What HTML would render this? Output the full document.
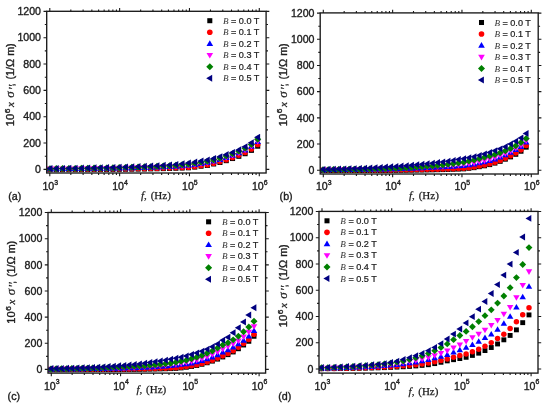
<!DOCTYPE html>
<html><head><meta charset="utf-8"><style>
html,body{margin:0;padding:0;background:#fff;}
svg{display:block;will-change:transform;}
text{stroke:#222;stroke-width:0.35px;}
.sf{stroke-width:0.25px;}
.lg{stroke-width:0.22px;}

</style></head><body>
<svg width="550" height="406" viewBox="0 0 550 406" font-family='"Liberation Sans", sans-serif' fill="#1a1a1a" stroke="#1a1a1a" stroke-width="0">
<defs><clipPath id="clipa"><rect x="46.7" y="5.300000000000001" width="225.40000000000003" height="167.7"/></clipPath><clipPath id="clipb"><rect x="320.2" y="6.9" width="224.00000000000006" height="167.1"/></clipPath><clipPath id="clipc"><rect x="48.0" y="206.5" width="223.60000000000002" height="166.60000000000002"/></clipPath><clipPath id="clipd"><rect x="319.0" y="205.4" width="225.0" height="167.70000000000002"/></clipPath></defs>
<rect width="550" height="406" fill="#fff"/>
<g clip-path="url(#clipa)">
<rect x="47.46" y="167.14" width="5.08" height="5.08" fill="#000000"/>
<rect x="53.76" y="167.12" width="5.08" height="5.08" fill="#000000"/>
<rect x="60.05" y="167.09" width="5.08" height="5.08" fill="#000000"/>
<rect x="66.34" y="167.07" width="5.08" height="5.08" fill="#000000"/>
<rect x="72.64" y="167.04" width="5.08" height="5.08" fill="#000000"/>
<rect x="78.93" y="167.01" width="5.08" height="5.08" fill="#000000"/>
<rect x="85.23" y="166.97" width="5.08" height="5.08" fill="#000000"/>
<rect x="91.52" y="166.94" width="5.08" height="5.08" fill="#000000"/>
<rect x="97.81" y="166.90" width="5.08" height="5.08" fill="#000000"/>
<rect x="104.11" y="166.86" width="5.08" height="5.08" fill="#000000"/>
<rect x="110.40" y="166.81" width="5.08" height="5.08" fill="#000000"/>
<rect x="116.70" y="166.76" width="5.08" height="5.08" fill="#000000"/>
<rect x="122.99" y="166.69" width="5.08" height="5.08" fill="#000000"/>
<rect x="129.28" y="166.61" width="5.08" height="5.08" fill="#000000"/>
<rect x="135.58" y="166.52" width="5.08" height="5.08" fill="#000000"/>
<rect x="141.87" y="166.43" width="5.08" height="5.08" fill="#000000"/>
<rect x="148.17" y="166.32" width="5.08" height="5.08" fill="#000000"/>
<rect x="154.46" y="166.19" width="5.08" height="5.08" fill="#000000"/>
<rect x="160.75" y="166.04" width="5.08" height="5.08" fill="#000000"/>
<rect x="167.05" y="165.88" width="5.08" height="5.08" fill="#000000"/>
<rect x="173.34" y="165.69" width="5.08" height="5.08" fill="#000000"/>
<rect x="179.63" y="165.48" width="5.08" height="5.08" fill="#000000"/>
<rect x="185.93" y="165.23" width="5.08" height="5.08" fill="#000000"/>
<rect x="192.22" y="164.53" width="5.08" height="5.08" fill="#000000"/>
<rect x="198.52" y="163.66" width="5.08" height="5.08" fill="#000000"/>
<rect x="204.81" y="162.87" width="5.08" height="5.08" fill="#000000"/>
<rect x="211.10" y="161.41" width="5.08" height="5.08" fill="#000000"/>
<rect x="217.40" y="159.91" width="5.08" height="5.08" fill="#000000"/>
<rect x="223.69" y="158.10" width="5.08" height="5.08" fill="#000000"/>
<rect x="229.99" y="155.96" width="5.08" height="5.08" fill="#000000"/>
<rect x="236.28" y="153.74" width="5.08" height="5.08" fill="#000000"/>
<rect x="242.57" y="151.14" width="5.08" height="5.08" fill="#000000"/>
<rect x="248.87" y="147.79" width="5.08" height="5.08" fill="#000000"/>
<rect x="255.16" y="143.62" width="5.08" height="5.08" fill="#000000"/>
<circle cx="50.00" cy="169.14" r="2.83" fill="#ff0000"/>
<circle cx="56.29" cy="169.11" r="2.83" fill="#ff0000"/>
<circle cx="62.59" cy="169.09" r="2.83" fill="#ff0000"/>
<circle cx="68.88" cy="169.06" r="2.83" fill="#ff0000"/>
<circle cx="75.18" cy="169.03" r="2.83" fill="#ff0000"/>
<circle cx="81.47" cy="169.00" r="2.83" fill="#ff0000"/>
<circle cx="87.76" cy="168.97" r="2.83" fill="#ff0000"/>
<circle cx="94.06" cy="168.93" r="2.83" fill="#ff0000"/>
<circle cx="100.35" cy="168.89" r="2.83" fill="#ff0000"/>
<circle cx="106.65" cy="168.84" r="2.83" fill="#ff0000"/>
<circle cx="112.94" cy="168.79" r="2.83" fill="#ff0000"/>
<circle cx="119.23" cy="168.74" r="2.83" fill="#ff0000"/>
<circle cx="125.53" cy="168.67" r="2.83" fill="#ff0000"/>
<circle cx="131.82" cy="168.58" r="2.83" fill="#ff0000"/>
<circle cx="138.12" cy="168.49" r="2.83" fill="#ff0000"/>
<circle cx="144.41" cy="168.39" r="2.83" fill="#ff0000"/>
<circle cx="150.70" cy="168.28" r="2.83" fill="#ff0000"/>
<circle cx="157.00" cy="168.15" r="2.83" fill="#ff0000"/>
<circle cx="163.29" cy="167.99" r="2.83" fill="#ff0000"/>
<circle cx="169.58" cy="167.82" r="2.83" fill="#ff0000"/>
<circle cx="175.88" cy="167.62" r="2.83" fill="#ff0000"/>
<circle cx="182.17" cy="167.40" r="2.83" fill="#ff0000"/>
<circle cx="188.47" cy="167.13" r="2.83" fill="#ff0000"/>
<circle cx="194.76" cy="166.41" r="2.83" fill="#ff0000"/>
<circle cx="201.05" cy="165.50" r="2.83" fill="#ff0000"/>
<circle cx="207.35" cy="164.67" r="2.83" fill="#ff0000"/>
<circle cx="213.64" cy="163.13" r="2.83" fill="#ff0000"/>
<circle cx="219.94" cy="161.57" r="2.83" fill="#ff0000"/>
<circle cx="226.23" cy="159.68" r="2.83" fill="#ff0000"/>
<circle cx="232.52" cy="157.43" r="2.83" fill="#ff0000"/>
<circle cx="238.82" cy="155.10" r="2.83" fill="#ff0000"/>
<circle cx="245.11" cy="152.39" r="2.83" fill="#ff0000"/>
<circle cx="251.41" cy="148.88" r="2.83" fill="#ff0000"/>
<circle cx="257.70" cy="144.51" r="2.83" fill="#ff0000"/>
<path d="M50.00,165.49L53.35,171.22L46.65,171.22Z" fill="#0000ff"/>
<path d="M56.29,165.45L59.64,171.17L52.95,171.17Z" fill="#0000ff"/>
<path d="M62.59,165.40L65.94,171.12L59.24,171.12Z" fill="#0000ff"/>
<path d="M68.88,165.34L72.23,171.07L65.53,171.07Z" fill="#0000ff"/>
<path d="M75.18,165.28L78.52,171.01L71.83,171.01Z" fill="#0000ff"/>
<path d="M81.47,165.22L84.82,170.94L78.12,170.94Z" fill="#0000ff"/>
<path d="M87.76,165.15L91.11,170.87L84.42,170.87Z" fill="#0000ff"/>
<path d="M94.06,165.08L97.41,170.80L90.71,170.80Z" fill="#0000ff"/>
<path d="M100.35,165.00L103.70,170.73L97.00,170.73Z" fill="#0000ff"/>
<path d="M106.65,164.92L109.99,170.64L103.30,170.64Z" fill="#0000ff"/>
<path d="M112.94,164.82L116.29,170.55L109.59,170.55Z" fill="#0000ff"/>
<path d="M119.23,164.72L122.58,170.45L115.89,170.45Z" fill="#0000ff"/>
<path d="M125.53,164.60L128.88,170.32L122.18,170.32Z" fill="#0000ff"/>
<path d="M131.82,164.47L135.17,170.19L128.47,170.19Z" fill="#0000ff"/>
<path d="M138.12,164.32L141.46,170.04L134.77,170.04Z" fill="#0000ff"/>
<path d="M144.41,164.15L147.76,169.88L141.06,169.88Z" fill="#0000ff"/>
<path d="M150.70,163.97L154.05,169.70L147.36,169.70Z" fill="#0000ff"/>
<path d="M157.00,163.77L160.34,169.49L153.65,169.49Z" fill="#0000ff"/>
<path d="M163.29,163.52L166.64,169.24L159.94,169.24Z" fill="#0000ff"/>
<path d="M169.58,163.24L172.93,168.96L166.24,168.96Z" fill="#0000ff"/>
<path d="M175.88,162.92L179.23,168.65L172.53,168.65Z" fill="#0000ff"/>
<path d="M182.17,162.52L185.52,168.25L178.82,168.25Z" fill="#0000ff"/>
<path d="M188.47,162.06L191.81,167.79L185.12,167.79Z" fill="#0000ff"/>
<path d="M194.76,161.27L198.11,166.99L191.41,166.99Z" fill="#0000ff"/>
<path d="M201.05,160.31L204.40,166.03L197.71,166.03Z" fill="#0000ff"/>
<path d="M207.35,159.35L210.70,165.08L204.00,165.08Z" fill="#0000ff"/>
<path d="M213.64,157.89L216.99,163.62L210.29,163.62Z" fill="#0000ff"/>
<path d="M219.94,156.22L223.28,161.94L216.59,161.94Z" fill="#0000ff"/>
<path d="M226.23,154.24L229.58,159.97L222.88,159.97Z" fill="#0000ff"/>
<path d="M232.52,152.01L235.87,157.73L229.18,157.73Z" fill="#0000ff"/>
<path d="M238.82,149.58L242.17,155.31L235.47,155.31Z" fill="#0000ff"/>
<path d="M245.11,146.71L248.46,152.43L241.76,152.43Z" fill="#0000ff"/>
<path d="M251.41,142.99L254.75,148.71L248.06,148.71Z" fill="#0000ff"/>
<path d="M257.70,138.18L261.05,143.90L254.35,143.90Z" fill="#0000ff"/>
<path d="M50.00,172.33L53.35,166.61L46.65,166.61Z" fill="#ff00ff"/>
<path d="M56.29,172.29L59.64,166.56L52.95,166.56Z" fill="#ff00ff"/>
<path d="M62.59,172.23L65.94,166.51L59.24,166.51Z" fill="#ff00ff"/>
<path d="M68.88,172.18L72.23,166.45L65.53,166.45Z" fill="#ff00ff"/>
<path d="M75.18,172.11L78.52,166.39L71.83,166.39Z" fill="#ff00ff"/>
<path d="M81.47,172.04L84.82,166.32L78.12,166.32Z" fill="#ff00ff"/>
<path d="M87.76,171.97L91.11,166.25L84.42,166.25Z" fill="#ff00ff"/>
<path d="M94.06,171.90L97.41,166.17L90.71,166.17Z" fill="#ff00ff"/>
<path d="M100.35,171.81L103.70,166.09L97.00,166.09Z" fill="#ff00ff"/>
<path d="M106.65,171.72L109.99,166.00L103.30,166.00Z" fill="#ff00ff"/>
<path d="M112.94,171.63L116.29,165.90L109.59,165.90Z" fill="#ff00ff"/>
<path d="M119.23,171.52L122.58,165.80L115.89,165.80Z" fill="#ff00ff"/>
<path d="M125.53,171.39L128.88,165.67L122.18,165.67Z" fill="#ff00ff"/>
<path d="M131.82,171.25L135.17,165.53L128.47,165.53Z" fill="#ff00ff"/>
<path d="M138.12,171.09L141.46,165.37L134.77,165.37Z" fill="#ff00ff"/>
<path d="M144.41,170.92L147.76,165.20L141.06,165.20Z" fill="#ff00ff"/>
<path d="M150.70,170.73L154.05,165.01L147.36,165.01Z" fill="#ff00ff"/>
<path d="M157.00,170.52L160.34,164.80L153.65,164.80Z" fill="#ff00ff"/>
<path d="M163.29,170.26L166.64,164.53L159.94,164.53Z" fill="#ff00ff"/>
<path d="M169.58,169.96L172.93,164.24L166.24,164.24Z" fill="#ff00ff"/>
<path d="M175.88,169.63L179.23,163.91L172.53,163.91Z" fill="#ff00ff"/>
<path d="M182.17,169.21L185.52,163.49L178.82,163.49Z" fill="#ff00ff"/>
<path d="M188.47,168.73L191.81,163.00L185.12,163.00Z" fill="#ff00ff"/>
<path d="M194.76,167.92L198.11,162.20L191.41,162.20Z" fill="#ff00ff"/>
<path d="M201.05,166.96L204.40,161.23L197.71,161.23Z" fill="#ff00ff"/>
<path d="M207.35,165.99L210.70,160.26L204.00,160.26Z" fill="#ff00ff"/>
<path d="M213.64,164.53L216.99,158.81L210.29,158.81Z" fill="#ff00ff"/>
<path d="M219.94,162.85L223.28,157.12L216.59,157.12Z" fill="#ff00ff"/>
<path d="M226.23,160.86L229.58,155.14L222.88,155.14Z" fill="#ff00ff"/>
<path d="M232.52,158.63L235.87,152.91L229.18,152.91Z" fill="#ff00ff"/>
<path d="M238.82,156.19L242.17,150.47L235.47,150.47Z" fill="#ff00ff"/>
<path d="M245.11,153.29L248.46,147.57L241.76,147.57Z" fill="#ff00ff"/>
<path d="M251.41,149.55L254.75,143.83L248.06,143.83Z" fill="#ff00ff"/>
<path d="M257.70,144.68L261.05,138.96L254.35,138.96Z" fill="#ff00ff"/>
<path d="M50.00,165.19L53.56,168.75L50.00,172.32L46.44,168.75Z" fill="#008000"/>
<path d="M56.29,165.12L59.86,168.69L56.29,172.25L52.73,168.69Z" fill="#008000"/>
<path d="M62.59,165.06L66.15,168.62L62.59,172.18L59.02,168.62Z" fill="#008000"/>
<path d="M68.88,164.98L72.45,168.54L68.88,172.11L65.32,168.54Z" fill="#008000"/>
<path d="M75.18,164.89L78.74,168.46L75.18,172.02L71.61,168.46Z" fill="#008000"/>
<path d="M81.47,164.80L85.03,168.37L81.47,171.93L77.91,168.37Z" fill="#008000"/>
<path d="M87.76,164.71L91.33,168.27L87.76,171.84L84.20,168.27Z" fill="#008000"/>
<path d="M94.06,164.61L97.62,168.17L94.06,171.74L90.49,168.17Z" fill="#008000"/>
<path d="M100.35,164.50L103.92,168.06L100.35,171.63L96.79,168.06Z" fill="#008000"/>
<path d="M106.65,164.38L110.21,167.95L106.65,171.51L103.08,167.95Z" fill="#008000"/>
<path d="M112.94,164.25L116.50,167.82L112.94,171.38L109.38,167.82Z" fill="#008000"/>
<path d="M119.23,164.11L122.80,167.68L119.23,171.24L115.67,167.68Z" fill="#008000"/>
<path d="M125.53,163.95L129.09,167.52L125.53,171.08L121.96,167.52Z" fill="#008000"/>
<path d="M131.82,163.77L135.39,167.34L131.82,170.90L128.26,167.34Z" fill="#008000"/>
<path d="M138.12,163.58L141.68,167.14L138.12,170.70L134.55,167.14Z" fill="#008000"/>
<path d="M144.41,163.36L147.97,166.93L144.41,170.49L140.85,166.93Z" fill="#008000"/>
<path d="M150.70,163.13L154.27,166.69L150.70,170.26L147.14,166.69Z" fill="#008000"/>
<path d="M157.00,162.86L160.56,166.43L157.00,169.99L153.43,166.43Z" fill="#008000"/>
<path d="M163.29,162.53L166.85,166.10L163.29,169.66L159.73,166.10Z" fill="#008000"/>
<path d="M169.58,162.17L173.15,165.73L169.58,169.29L166.02,165.73Z" fill="#008000"/>
<path d="M175.88,161.75L179.44,165.31L175.88,168.88L172.31,165.31Z" fill="#008000"/>
<path d="M182.17,161.21L185.74,164.77L182.17,168.33L178.61,164.77Z" fill="#008000"/>
<path d="M188.47,160.58L192.03,164.15L188.47,167.71L184.90,164.15Z" fill="#008000"/>
<path d="M194.76,159.73L198.32,163.29L194.76,166.85L191.20,163.29Z" fill="#008000"/>
<path d="M201.05,158.73L204.62,162.29L201.05,165.86L197.49,162.29Z" fill="#008000"/>
<path d="M207.35,157.67L210.91,161.23L207.35,164.80L203.78,161.23Z" fill="#008000"/>
<path d="M213.64,156.27L217.21,159.83L213.64,163.40L210.08,159.83Z" fill="#008000"/>
<path d="M219.94,154.51L223.50,158.07L219.94,161.64L216.37,158.07Z" fill="#008000"/>
<path d="M226.23,152.46L229.79,156.03L226.23,159.59L222.67,156.03Z" fill="#008000"/>
<path d="M232.52,150.24L236.09,153.80L232.52,157.37L228.96,153.80Z" fill="#008000"/>
<path d="M238.82,147.73L242.38,151.30L238.82,154.86L235.25,151.30Z" fill="#008000"/>
<path d="M245.11,144.72L248.68,148.29L245.11,151.85L241.55,148.29Z" fill="#008000"/>
<path d="M251.41,140.83L254.97,144.40L251.41,147.96L247.84,144.40Z" fill="#008000"/>
<path d="M257.70,135.66L261.26,139.22L257.70,142.78L254.14,139.22Z" fill="#008000"/>
<path d="M46.37,168.61L52.42,165.05L52.42,172.17Z" fill="#000080"/>
<path d="M52.67,168.53L58.71,164.97L58.71,172.10Z" fill="#000080"/>
<path d="M58.96,168.45L65.01,164.88L65.01,172.01Z" fill="#000080"/>
<path d="M65.25,168.35L71.30,164.79L71.30,171.91Z" fill="#000080"/>
<path d="M71.55,168.25L77.59,164.68L77.59,171.81Z" fill="#000080"/>
<path d="M77.84,168.13L83.89,164.57L83.89,171.70Z" fill="#000080"/>
<path d="M84.13,168.01L90.18,164.45L90.18,171.58Z" fill="#000080"/>
<path d="M90.43,167.89L96.48,164.33L96.48,171.46Z" fill="#000080"/>
<path d="M96.72,167.76L102.77,164.20L102.77,171.32Z" fill="#000080"/>
<path d="M103.02,167.61L109.06,164.05L109.06,171.18Z" fill="#000080"/>
<path d="M109.31,167.46L115.36,163.89L115.36,171.02Z" fill="#000080"/>
<path d="M115.60,167.29L121.65,163.72L121.65,170.85Z" fill="#000080"/>
<path d="M121.90,167.09L127.95,163.53L127.95,170.65Z" fill="#000080"/>
<path d="M128.19,166.88L134.24,163.31L134.24,170.44Z" fill="#000080"/>
<path d="M134.49,166.64L140.53,163.08L140.53,170.20Z" fill="#000080"/>
<path d="M140.78,166.38L146.83,162.82L146.83,169.95Z" fill="#000080"/>
<path d="M147.07,166.10L153.12,162.54L153.12,169.67Z" fill="#000080"/>
<path d="M153.37,165.79L159.42,162.23L159.42,169.36Z" fill="#000080"/>
<path d="M159.66,165.40L165.71,161.83L165.71,168.96Z" fill="#000080"/>
<path d="M165.96,164.96L172.00,161.39L172.00,168.52Z" fill="#000080"/>
<path d="M172.25,164.46L178.30,160.90L178.30,168.02Z" fill="#000080"/>
<path d="M178.54,163.80L184.59,160.23L184.59,167.36Z" fill="#000080"/>
<path d="M184.84,163.04L190.89,159.48L190.89,166.61Z" fill="#000080"/>
<path d="M191.13,162.14L197.18,158.57L197.18,165.70Z" fill="#000080"/>
<path d="M197.43,161.11L203.47,157.54L203.47,164.67Z" fill="#000080"/>
<path d="M203.72,159.96L209.77,156.40L209.77,163.53Z" fill="#000080"/>
<path d="M210.01,158.61L216.06,155.05L216.06,162.18Z" fill="#000080"/>
<path d="M216.31,156.78L222.36,153.22L222.36,160.34Z" fill="#000080"/>
<path d="M222.60,154.68L228.65,151.11L228.65,158.24Z" fill="#000080"/>
<path d="M228.90,152.46L234.94,148.90L234.94,156.03Z" fill="#000080"/>
<path d="M235.19,149.89L241.24,146.32L241.24,153.45Z" fill="#000080"/>
<path d="M241.48,146.77L247.53,143.21L247.53,150.34Z" fill="#000080"/>
<path d="M247.78,142.74L253.83,139.18L253.83,146.30Z" fill="#000080"/>
<path d="M254.07,137.27L260.12,133.70L260.12,140.83Z" fill="#000080"/>
</g>
<rect x="46.70" y="11.30" width="219.40" height="161.70" fill="none" stroke="#1a1a1a" stroke-width="1.35"/>
<text x="41.00" y="173.10" text-anchor="end" font-size="10.6">0</text>
<text x="41.00" y="146.76" text-anchor="end" font-size="10.6">200</text>
<text x="41.00" y="120.42" text-anchor="end" font-size="10.6">400</text>
<text x="41.00" y="94.08" text-anchor="end" font-size="10.6">600</text>
<text x="41.00" y="67.74" text-anchor="end" font-size="10.6">800</text>
<text x="41.00" y="41.40" text-anchor="end" font-size="10.6">1000</text>
<text x="41.00" y="15.06" text-anchor="end" font-size="10.6">1200</text>
<path d="M46.70,169.40h-3.2M266.10,169.40h3.2M46.70,156.23h-1.9M266.10,156.23h1.9M46.70,143.06h-3.2M266.10,143.06h3.2M46.70,129.89h-1.9M266.10,129.89h1.9M46.70,116.72h-3.2M266.10,116.72h3.2M46.70,103.55h-1.9M266.10,103.55h1.9M46.70,90.38h-3.2M266.10,90.38h3.2M46.70,77.21h-1.9M266.10,77.21h1.9M46.70,64.04h-3.2M266.10,64.04h3.2M46.70,50.87h-1.9M266.10,50.87h1.9M46.70,37.70h-3.2M266.10,37.70h3.2M46.70,24.53h-1.9M266.10,24.53h1.9M46.70,11.36h-3.2M266.10,11.36h3.2M49.80,173.00v3.2M49.80,11.30v-3.2M70.82,173.00v1.9M70.82,11.30v-1.9M83.12,173.00v1.9M83.12,11.30v-1.9M91.84,173.00v1.9M91.84,11.30v-1.9M98.61,173.00v1.9M98.61,11.30v-1.9M104.14,173.00v1.9M104.14,11.30v-1.9M108.81,173.00v1.9M108.81,11.30v-1.9M112.86,173.00v1.9M112.86,11.30v-1.9M116.43,173.00v1.9M116.43,11.30v-1.9M119.63,173.00v3.2M119.63,11.30v-3.2M140.65,173.00v1.9M140.65,11.30v-1.9M152.95,173.00v1.9M152.95,11.30v-1.9M161.67,173.00v1.9M161.67,11.30v-1.9M168.44,173.00v1.9M168.44,11.30v-1.9M173.97,173.00v1.9M173.97,11.30v-1.9M178.64,173.00v1.9M178.64,11.30v-1.9M182.69,173.00v1.9M182.69,11.30v-1.9M186.26,173.00v1.9M186.26,11.30v-1.9M189.46,173.00v3.2M189.46,11.30v-3.2M210.48,173.00v1.9M210.48,11.30v-1.9M222.78,173.00v1.9M222.78,11.30v-1.9M231.50,173.00v1.9M231.50,11.30v-1.9M238.27,173.00v1.9M238.27,11.30v-1.9M243.80,173.00v1.9M243.80,11.30v-1.9M248.47,173.00v1.9M248.47,11.30v-1.9M252.52,173.00v1.9M252.52,11.30v-1.9M256.09,173.00v1.9M256.09,11.30v-1.9M259.29,173.00v3.2M259.29,11.30v-3.2" stroke="#1a1a1a" stroke-width="1.1" fill="none"/>
<text x="42.40" y="190.10" font-size="10.6">10<tspan font-size="6.9" dy="-5.4">3</tspan></text>
<text x="112.23" y="190.10" font-size="10.6">10<tspan font-size="6.9" dy="-5.4">4</tspan></text>
<text x="182.06" y="190.10" font-size="10.6">10<tspan font-size="6.9" dy="-5.4">5</tspan></text>
<text x="251.89" y="190.10" font-size="10.6">10<tspan font-size="6.9" dy="-5.4">6</tspan></text>
<text x="8.2" y="200.1" font-size="10.7">(a)</text>
<rect x="207.29" y="18.19" width="5.03" height="5.03" fill="#000000"/>
<text x="222.9" y="23.70" font-size="9.1" class="lg"><tspan font-family='"Liberation Serif", serif' font-style="italic" fill="#333" stroke="none">B</tspan> = 0.0 T</text>
<circle cx="209.80" cy="32.20" r="2.81" fill="#ff0000"/>
<text x="222.9" y="35.20" font-size="9.1" class="lg"><tspan font-family='"Liberation Serif", serif' font-style="italic" fill="#333" stroke="none">B</tspan> = 0.1 T</text>
<path d="M209.80,40.30L213.12,45.97L206.48,45.97Z" fill="#0000ff"/>
<text x="222.9" y="46.70" font-size="9.1" class="lg"><tspan font-family='"Liberation Serif", serif' font-style="italic" fill="#333" stroke="none">B</tspan> = 0.2 T</text>
<path d="M209.80,58.60L213.12,52.93L206.48,52.93Z" fill="#ff00ff"/>
<text x="222.9" y="58.20" font-size="9.1" class="lg"><tspan font-family='"Liberation Serif", serif' font-style="italic" fill="#333" stroke="none">B</tspan> = 0.3 T</text>
<path d="M209.80,63.17L213.33,66.70L209.80,70.23L206.27,66.70Z" fill="#008000"/>
<text x="222.9" y="69.70" font-size="9.1" class="lg"><tspan font-family='"Liberation Serif", serif' font-style="italic" fill="#333" stroke="none">B</tspan> = 0.4 T</text>
<path d="M206.20,78.20L212.20,74.67L212.20,81.73Z" fill="#000080"/>
<text x="222.9" y="81.20" font-size="9.1" class="lg"><tspan font-family='"Liberation Serif", serif' font-style="italic" fill="#333" stroke="none">B</tspan> = 0.5 T</text>
<text x="141.0" y="198.7" font-family='"Liberation Serif", serif' font-size="11" class="sf"><tspan font-style="italic">f</tspan>,<tspan dx="1.1"> (Hz)</tspan></text>
<g transform="translate(14.3,125.0) rotate(-90)" font-size="10">
<text transform="translate(-1.2,0) scale(1.12,1)" x="0" y="0">10<tspan font-size="7.6" dx="0.4" dy="-4.2">6</tspan></text>
<text x="17.9" y="0" font-family='"Liberation Serif", serif' font-style="italic" font-size="11" class="sf">x</text>
<text x="27.3" y="0" font-family='"Liberation Serif", serif' font-style="italic" font-size="13" class="sf">σ</text>
<text x="34.8" y="2.2" font-family='"Liberation Serif", serif' font-style="italic" font-size="13" class="sf">''</text>
<text x="38.8" y="0">,</text>
<text transform="translate(45.5,0) scale(1.08,1)" x="0" y="0">(1/Ω m)</text>
</g>
<g clip-path="url(#clipb)">
<rect x="320.51" y="168.11" width="4.98" height="4.98" fill="#000000"/>
<rect x="325.72" y="168.10" width="4.98" height="4.98" fill="#000000"/>
<rect x="330.93" y="168.09" width="4.98" height="4.98" fill="#000000"/>
<rect x="336.14" y="168.08" width="4.98" height="4.98" fill="#000000"/>
<rect x="341.35" y="168.07" width="4.98" height="4.98" fill="#000000"/>
<rect x="346.56" y="168.06" width="4.98" height="4.98" fill="#000000"/>
<rect x="351.77" y="168.05" width="4.98" height="4.98" fill="#000000"/>
<rect x="356.98" y="168.04" width="4.98" height="4.98" fill="#000000"/>
<rect x="362.19" y="168.03" width="4.98" height="4.98" fill="#000000"/>
<rect x="367.40" y="168.02" width="4.98" height="4.98" fill="#000000"/>
<rect x="372.61" y="168.00" width="4.98" height="4.98" fill="#000000"/>
<rect x="377.82" y="167.99" width="4.98" height="4.98" fill="#000000"/>
<rect x="383.03" y="167.96" width="4.98" height="4.98" fill="#000000"/>
<rect x="388.24" y="167.93" width="4.98" height="4.98" fill="#000000"/>
<rect x="393.45" y="167.88" width="4.98" height="4.98" fill="#000000"/>
<rect x="398.66" y="167.83" width="4.98" height="4.98" fill="#000000"/>
<rect x="403.87" y="167.77" width="4.98" height="4.98" fill="#000000"/>
<rect x="409.08" y="167.70" width="4.98" height="4.98" fill="#000000"/>
<rect x="414.29" y="167.63" width="4.98" height="4.98" fill="#000000"/>
<rect x="419.50" y="167.54" width="4.98" height="4.98" fill="#000000"/>
<rect x="424.71" y="167.44" width="4.98" height="4.98" fill="#000000"/>
<rect x="429.92" y="167.34" width="4.98" height="4.98" fill="#000000"/>
<rect x="435.13" y="167.22" width="4.98" height="4.98" fill="#000000"/>
<rect x="440.34" y="167.09" width="4.98" height="4.98" fill="#000000"/>
<rect x="445.56" y="166.94" width="4.98" height="4.98" fill="#000000"/>
<rect x="450.77" y="166.78" width="4.98" height="4.98" fill="#000000"/>
<rect x="455.98" y="166.59" width="4.98" height="4.98" fill="#000000"/>
<rect x="461.19" y="166.38" width="4.98" height="4.98" fill="#000000"/>
<rect x="466.40" y="165.81" width="4.98" height="4.98" fill="#000000"/>
<rect x="471.61" y="165.17" width="4.98" height="4.98" fill="#000000"/>
<rect x="476.82" y="164.19" width="4.98" height="4.98" fill="#000000"/>
<rect x="482.03" y="163.32" width="4.98" height="4.98" fill="#000000"/>
<rect x="487.24" y="162.12" width="4.98" height="4.98" fill="#000000"/>
<rect x="492.45" y="160.62" width="4.98" height="4.98" fill="#000000"/>
<rect x="497.66" y="158.84" width="4.98" height="4.98" fill="#000000"/>
<rect x="502.87" y="156.69" width="4.98" height="4.98" fill="#000000"/>
<rect x="508.08" y="154.39" width="4.98" height="4.98" fill="#000000"/>
<rect x="513.29" y="151.82" width="4.98" height="4.98" fill="#000000"/>
<rect x="518.50" y="148.76" width="4.98" height="4.98" fill="#000000"/>
<rect x="523.71" y="144.68" width="4.98" height="4.98" fill="#000000"/>
<circle cx="323.00" cy="170.07" r="2.78" fill="#ff0000"/>
<circle cx="328.21" cy="170.06" r="2.78" fill="#ff0000"/>
<circle cx="333.42" cy="170.05" r="2.78" fill="#ff0000"/>
<circle cx="338.63" cy="170.04" r="2.78" fill="#ff0000"/>
<circle cx="343.84" cy="170.03" r="2.78" fill="#ff0000"/>
<circle cx="349.05" cy="170.02" r="2.78" fill="#ff0000"/>
<circle cx="354.26" cy="170.01" r="2.78" fill="#ff0000"/>
<circle cx="359.47" cy="170.00" r="2.78" fill="#ff0000"/>
<circle cx="364.68" cy="169.99" r="2.78" fill="#ff0000"/>
<circle cx="369.89" cy="169.97" r="2.78" fill="#ff0000"/>
<circle cx="375.10" cy="169.96" r="2.78" fill="#ff0000"/>
<circle cx="380.31" cy="169.95" r="2.78" fill="#ff0000"/>
<circle cx="385.52" cy="169.92" r="2.78" fill="#ff0000"/>
<circle cx="390.73" cy="169.88" r="2.78" fill="#ff0000"/>
<circle cx="395.94" cy="169.83" r="2.78" fill="#ff0000"/>
<circle cx="401.15" cy="169.78" r="2.78" fill="#ff0000"/>
<circle cx="406.36" cy="169.72" r="2.78" fill="#ff0000"/>
<circle cx="411.57" cy="169.65" r="2.78" fill="#ff0000"/>
<circle cx="416.78" cy="169.57" r="2.78" fill="#ff0000"/>
<circle cx="421.99" cy="169.47" r="2.78" fill="#ff0000"/>
<circle cx="427.21" cy="169.37" r="2.78" fill="#ff0000"/>
<circle cx="432.42" cy="169.27" r="2.78" fill="#ff0000"/>
<circle cx="437.63" cy="169.14" r="2.78" fill="#ff0000"/>
<circle cx="442.84" cy="169.01" r="2.78" fill="#ff0000"/>
<circle cx="448.05" cy="168.85" r="2.78" fill="#ff0000"/>
<circle cx="453.26" cy="168.68" r="2.78" fill="#ff0000"/>
<circle cx="458.47" cy="168.48" r="2.78" fill="#ff0000"/>
<circle cx="463.68" cy="168.26" r="2.78" fill="#ff0000"/>
<circle cx="468.89" cy="167.67" r="2.78" fill="#ff0000"/>
<circle cx="474.10" cy="167.00" r="2.78" fill="#ff0000"/>
<circle cx="479.31" cy="165.97" r="2.78" fill="#ff0000"/>
<circle cx="484.52" cy="165.07" r="2.78" fill="#ff0000"/>
<circle cx="489.73" cy="163.81" r="2.78" fill="#ff0000"/>
<circle cx="494.94" cy="162.24" r="2.78" fill="#ff0000"/>
<circle cx="500.15" cy="160.39" r="2.78" fill="#ff0000"/>
<circle cx="505.36" cy="158.14" r="2.78" fill="#ff0000"/>
<circle cx="510.57" cy="155.74" r="2.78" fill="#ff0000"/>
<circle cx="515.78" cy="153.05" r="2.78" fill="#ff0000"/>
<circle cx="520.99" cy="149.85" r="2.78" fill="#ff0000"/>
<circle cx="526.20" cy="145.59" r="2.78" fill="#ff0000"/>
<path d="M323.00,166.52L326.29,172.14L319.71,172.14Z" fill="#0000ff"/>
<path d="M328.21,166.49L331.50,172.11L324.92,172.11Z" fill="#0000ff"/>
<path d="M333.42,166.45L336.71,172.07L330.13,172.07Z" fill="#0000ff"/>
<path d="M338.63,166.41L341.92,172.03L335.34,172.03Z" fill="#0000ff"/>
<path d="M343.84,166.37L347.13,171.99L340.56,171.99Z" fill="#0000ff"/>
<path d="M349.05,166.32L352.34,171.94L345.77,171.94Z" fill="#0000ff"/>
<path d="M354.26,166.27L357.55,171.88L350.98,171.88Z" fill="#0000ff"/>
<path d="M359.47,166.21L362.76,171.82L356.19,171.82Z" fill="#0000ff"/>
<path d="M364.68,166.14L367.97,171.76L361.40,171.76Z" fill="#0000ff"/>
<path d="M369.89,166.06L373.18,171.68L366.61,171.68Z" fill="#0000ff"/>
<path d="M375.10,165.98L378.39,171.60L371.82,171.60Z" fill="#0000ff"/>
<path d="M380.31,165.88L383.60,171.50L377.03,171.50Z" fill="#0000ff"/>
<path d="M385.52,165.78L388.81,171.40L382.24,171.40Z" fill="#0000ff"/>
<path d="M390.73,165.67L394.02,171.29L387.45,171.29Z" fill="#0000ff"/>
<path d="M395.94,165.55L399.23,171.16L392.66,171.16Z" fill="#0000ff"/>
<path d="M401.15,165.41L404.44,171.03L397.87,171.03Z" fill="#0000ff"/>
<path d="M406.36,165.26L409.65,170.87L403.08,170.87Z" fill="#0000ff"/>
<path d="M411.57,165.09L414.86,170.70L408.29,170.70Z" fill="#0000ff"/>
<path d="M416.78,164.90L420.07,170.52L413.50,170.52Z" fill="#0000ff"/>
<path d="M421.99,164.69L425.28,170.31L418.71,170.31Z" fill="#0000ff"/>
<path d="M427.21,164.47L430.49,170.09L423.92,170.09Z" fill="#0000ff"/>
<path d="M432.42,164.24L435.70,169.86L429.13,169.86Z" fill="#0000ff"/>
<path d="M437.63,163.99L440.91,169.61L434.34,169.61Z" fill="#0000ff"/>
<path d="M442.84,163.71L446.12,169.33L439.55,169.33Z" fill="#0000ff"/>
<path d="M448.05,163.41L451.33,169.03L444.76,169.03Z" fill="#0000ff"/>
<path d="M453.26,163.07L456.54,168.69L449.97,168.69Z" fill="#0000ff"/>
<path d="M458.47,162.70L461.75,168.32L455.18,168.32Z" fill="#0000ff"/>
<path d="M463.68,162.29L466.96,167.91L460.39,167.91Z" fill="#0000ff"/>
<path d="M468.89,161.65L472.17,167.27L465.60,167.27Z" fill="#0000ff"/>
<path d="M474.10,160.85L477.38,166.47L470.81,166.47Z" fill="#0000ff"/>
<path d="M479.31,159.74L482.59,165.36L476.02,165.36Z" fill="#0000ff"/>
<path d="M484.52,158.71L487.80,164.33L481.23,164.33Z" fill="#0000ff"/>
<path d="M489.73,157.40L493.01,163.02L486.44,163.02Z" fill="#0000ff"/>
<path d="M494.94,155.80L498.22,161.41L491.65,161.41Z" fill="#0000ff"/>
<path d="M500.15,153.91L503.43,159.53L496.86,159.53Z" fill="#0000ff"/>
<path d="M505.36,151.69L508.64,157.31L502.07,157.31Z" fill="#0000ff"/>
<path d="M510.57,149.22L513.86,154.84L507.28,154.84Z" fill="#0000ff"/>
<path d="M515.78,146.49L519.07,152.11L512.49,152.11Z" fill="#0000ff"/>
<path d="M520.99,143.30L524.28,148.92L517.70,148.92Z" fill="#0000ff"/>
<path d="M526.20,138.97L529.49,144.59L522.91,144.59Z" fill="#0000ff"/>
<path d="M323.00,173.17L326.29,167.55L319.71,167.55Z" fill="#ff00ff"/>
<path d="M328.21,173.13L331.50,167.51L324.92,167.51Z" fill="#ff00ff"/>
<path d="M333.42,173.08L336.71,167.46L330.13,167.46Z" fill="#ff00ff"/>
<path d="M338.63,173.02L341.92,167.40L335.34,167.40Z" fill="#ff00ff"/>
<path d="M343.84,172.96L347.13,167.34L340.56,167.34Z" fill="#ff00ff"/>
<path d="M349.05,172.89L352.34,167.27L345.77,167.27Z" fill="#ff00ff"/>
<path d="M354.26,172.81L357.55,167.20L350.98,167.20Z" fill="#ff00ff"/>
<path d="M359.47,172.73L362.76,167.11L356.19,167.11Z" fill="#ff00ff"/>
<path d="M364.68,172.63L367.97,167.01L361.40,167.01Z" fill="#ff00ff"/>
<path d="M369.89,172.52L373.18,166.90L366.61,166.90Z" fill="#ff00ff"/>
<path d="M375.10,172.40L378.39,166.78L371.82,166.78Z" fill="#ff00ff"/>
<path d="M380.31,172.27L383.60,166.65L377.03,166.65Z" fill="#ff00ff"/>
<path d="M385.52,172.12L388.81,166.50L382.24,166.50Z" fill="#ff00ff"/>
<path d="M390.73,171.97L394.02,166.36L387.45,166.36Z" fill="#ff00ff"/>
<path d="M395.94,171.81L399.23,166.19L392.66,166.19Z" fill="#ff00ff"/>
<path d="M401.15,171.63L404.44,166.01L397.87,166.01Z" fill="#ff00ff"/>
<path d="M406.36,171.43L409.65,165.81L403.08,165.81Z" fill="#ff00ff"/>
<path d="M411.57,171.21L414.86,165.59L408.29,165.59Z" fill="#ff00ff"/>
<path d="M416.78,170.97L420.07,165.35L413.50,165.35Z" fill="#ff00ff"/>
<path d="M421.99,170.70L425.28,165.08L418.71,165.08Z" fill="#ff00ff"/>
<path d="M427.21,170.42L430.49,164.80L423.92,164.80Z" fill="#ff00ff"/>
<path d="M432.42,170.12L435.70,164.51L429.13,164.51Z" fill="#ff00ff"/>
<path d="M437.63,169.81L440.91,164.19L434.34,164.19Z" fill="#ff00ff"/>
<path d="M442.84,169.46L446.12,163.84L439.55,163.84Z" fill="#ff00ff"/>
<path d="M448.05,169.07L451.33,163.46L444.76,163.46Z" fill="#ff00ff"/>
<path d="M453.26,168.65L456.54,163.04L449.97,163.04Z" fill="#ff00ff"/>
<path d="M458.47,168.19L461.75,162.58L455.18,162.58Z" fill="#ff00ff"/>
<path d="M463.68,167.69L466.96,162.07L460.39,162.07Z" fill="#ff00ff"/>
<path d="M468.89,167.02L472.17,161.40L465.60,161.40Z" fill="#ff00ff"/>
<path d="M474.10,166.15L477.38,160.53L470.81,160.53Z" fill="#ff00ff"/>
<path d="M479.31,165.00L482.59,159.38L476.02,159.38Z" fill="#ff00ff"/>
<path d="M484.52,163.90L487.80,158.28L481.23,158.28Z" fill="#ff00ff"/>
<path d="M489.73,162.57L493.01,156.95L486.44,156.95Z" fill="#ff00ff"/>
<path d="M494.94,160.94L498.22,155.33L491.65,155.33Z" fill="#ff00ff"/>
<path d="M500.15,159.04L503.43,153.42L496.86,153.42Z" fill="#ff00ff"/>
<path d="M505.36,156.84L508.64,151.22L502.07,151.22Z" fill="#ff00ff"/>
<path d="M510.57,154.33L513.86,148.71L507.28,148.71Z" fill="#ff00ff"/>
<path d="M515.78,151.59L519.07,145.97L512.49,145.97Z" fill="#ff00ff"/>
<path d="M520.99,148.39L524.28,142.77L517.70,142.77Z" fill="#ff00ff"/>
<path d="M526.20,144.02L529.49,138.41L522.91,138.41Z" fill="#ff00ff"/>
<path d="M323.00,166.18L326.50,169.68L323.00,173.17L319.50,169.68Z" fill="#008000"/>
<path d="M328.21,166.13L331.71,169.62L328.21,173.12L324.71,169.62Z" fill="#008000"/>
<path d="M333.42,166.07L336.92,169.57L333.42,173.06L329.92,169.57Z" fill="#008000"/>
<path d="M338.63,166.00L342.13,169.50L338.63,173.00L335.13,169.50Z" fill="#008000"/>
<path d="M343.84,165.94L347.34,169.43L343.84,172.93L340.34,169.43Z" fill="#008000"/>
<path d="M349.05,165.86L352.55,169.36L349.05,172.85L345.55,169.36Z" fill="#008000"/>
<path d="M354.26,165.77L357.76,169.27L354.26,172.77L350.76,169.27Z" fill="#008000"/>
<path d="M359.47,165.68L362.97,169.18L359.47,172.68L355.97,169.18Z" fill="#008000"/>
<path d="M364.68,165.58L368.18,169.08L364.68,172.57L361.18,169.08Z" fill="#008000"/>
<path d="M369.89,165.47L373.39,168.96L369.89,172.46L366.39,168.96Z" fill="#008000"/>
<path d="M375.10,165.34L378.60,168.84L375.10,172.34L371.60,168.84Z" fill="#008000"/>
<path d="M380.31,165.21L383.81,168.70L380.31,172.20L376.81,168.70Z" fill="#008000"/>
<path d="M385.52,165.05L389.02,168.55L385.52,172.05L382.03,168.55Z" fill="#008000"/>
<path d="M390.73,164.87L394.23,168.36L390.73,171.86L387.24,168.36Z" fill="#008000"/>
<path d="M395.94,164.66L399.44,168.16L395.94,171.66L392.45,168.16Z" fill="#008000"/>
<path d="M401.15,164.44L404.65,167.93L401.15,171.43L397.66,167.93Z" fill="#008000"/>
<path d="M406.36,164.19L409.86,167.68L406.36,171.18L402.87,167.68Z" fill="#008000"/>
<path d="M411.57,163.91L415.07,167.40L411.57,170.90L408.08,167.40Z" fill="#008000"/>
<path d="M416.78,163.60L420.28,167.09L416.78,170.59L413.29,167.09Z" fill="#008000"/>
<path d="M421.99,163.25L425.49,166.75L421.99,170.25L418.50,166.75Z" fill="#008000"/>
<path d="M427.21,162.87L430.70,166.37L427.21,169.87L423.71,166.37Z" fill="#008000"/>
<path d="M432.42,162.44L435.91,165.94L432.42,169.44L428.92,165.94Z" fill="#008000"/>
<path d="M437.63,161.97L441.12,165.47L437.63,168.96L434.13,165.47Z" fill="#008000"/>
<path d="M442.84,161.44L446.33,164.94L442.84,168.44L439.34,164.94Z" fill="#008000"/>
<path d="M448.05,160.85L451.54,164.35L448.05,167.85L444.55,164.35Z" fill="#008000"/>
<path d="M453.26,160.20L456.75,163.70L453.26,167.20L449.76,163.70Z" fill="#008000"/>
<path d="M458.47,159.48L461.96,162.97L458.47,166.47L454.97,162.97Z" fill="#008000"/>
<path d="M463.68,158.67L467.17,162.17L463.68,165.67L460.18,162.17Z" fill="#008000"/>
<path d="M468.89,157.44L472.39,160.94L468.89,164.43L465.39,160.94Z" fill="#008000"/>
<path d="M474.10,156.46L477.60,159.95L474.10,163.45L470.60,159.95Z" fill="#008000"/>
<path d="M479.31,155.16L482.81,158.66L479.31,162.15L475.81,158.66Z" fill="#008000"/>
<path d="M484.52,153.66L488.02,157.16L484.52,160.66L481.02,157.16Z" fill="#008000"/>
<path d="M489.73,152.44L493.23,155.94L489.73,159.43L486.23,155.94Z" fill="#008000"/>
<path d="M494.94,150.88L498.44,154.38L494.94,157.88L491.44,154.38Z" fill="#008000"/>
<path d="M500.15,149.27L503.65,152.77L500.15,156.27L496.65,152.77Z" fill="#008000"/>
<path d="M505.36,147.30L508.86,150.79L505.36,154.29L501.86,150.79Z" fill="#008000"/>
<path d="M510.57,145.03L514.07,148.53L510.57,152.03L507.07,148.53Z" fill="#008000"/>
<path d="M515.78,142.22L519.28,145.72L515.78,149.22L512.28,145.72Z" fill="#008000"/>
<path d="M520.99,139.02L524.49,142.52L520.99,146.02L517.49,142.52Z" fill="#008000"/>
<path d="M526.20,134.89L529.70,138.39L526.20,141.89L522.70,138.39Z" fill="#008000"/>
<path d="M319.44,169.41L325.37,165.92L325.37,172.91Z" fill="#000080"/>
<path d="M324.65,169.32L330.58,165.82L330.58,172.82Z" fill="#000080"/>
<path d="M329.86,169.21L335.79,165.71L335.79,172.71Z" fill="#000080"/>
<path d="M335.07,169.09L341.01,165.59L341.01,172.59Z" fill="#000080"/>
<path d="M340.28,168.95L346.22,165.45L346.22,172.45Z" fill="#000080"/>
<path d="M345.49,168.80L351.43,165.30L351.43,172.29Z" fill="#000080"/>
<path d="M350.70,168.62L356.64,165.13L356.64,172.12Z" fill="#000080"/>
<path d="M355.91,168.43L361.85,164.93L361.85,171.93Z" fill="#000080"/>
<path d="M361.12,168.21L367.06,164.71L367.06,171.71Z" fill="#000080"/>
<path d="M366.33,167.97L372.27,164.47L372.27,171.46Z" fill="#000080"/>
<path d="M371.54,167.69L377.48,164.19L377.48,171.19Z" fill="#000080"/>
<path d="M376.75,167.38L382.69,163.89L382.69,170.88Z" fill="#000080"/>
<path d="M381.96,167.07L387.90,163.57L387.90,170.57Z" fill="#000080"/>
<path d="M387.17,166.77L393.11,163.27L393.11,170.27Z" fill="#000080"/>
<path d="M392.38,166.44L398.32,162.94L398.32,169.93Z" fill="#000080"/>
<path d="M397.59,166.07L403.53,162.58L403.53,169.57Z" fill="#000080"/>
<path d="M402.80,165.68L408.74,162.18L408.74,169.18Z" fill="#000080"/>
<path d="M408.01,165.24L413.95,161.74L413.95,168.74Z" fill="#000080"/>
<path d="M413.22,164.76L419.16,161.27L419.16,168.26Z" fill="#000080"/>
<path d="M418.43,164.24L424.37,160.74L424.37,167.74Z" fill="#000080"/>
<path d="M423.64,163.69L429.58,160.20L429.58,167.19Z" fill="#000080"/>
<path d="M428.85,163.14L434.79,159.64L434.79,166.64Z" fill="#000080"/>
<path d="M434.06,162.53L440.00,159.04L440.00,166.03Z" fill="#000080"/>
<path d="M439.27,161.88L445.21,158.38L445.21,165.38Z" fill="#000080"/>
<path d="M444.48,161.17L450.42,157.67L450.42,164.67Z" fill="#000080"/>
<path d="M449.69,160.39L455.63,156.90L455.63,163.89Z" fill="#000080"/>
<path d="M454.91,159.56L460.84,156.06L460.84,163.05Z" fill="#000080"/>
<path d="M460.12,158.65L466.05,155.15L466.05,162.14Z" fill="#000080"/>
<path d="M465.33,157.86L471.26,154.36L471.26,161.36Z" fill="#000080"/>
<path d="M470.54,156.71L476.47,153.21L476.47,160.21Z" fill="#000080"/>
<path d="M475.75,155.38L481.68,151.88L481.68,158.88Z" fill="#000080"/>
<path d="M480.96,154.00L486.89,150.50L486.89,157.50Z" fill="#000080"/>
<path d="M486.17,152.56L492.10,149.06L492.10,156.06Z" fill="#000080"/>
<path d="M491.38,150.86L497.31,147.36L497.31,154.35Z" fill="#000080"/>
<path d="M496.59,148.87L502.52,145.38L502.52,152.37Z" fill="#000080"/>
<path d="M501.80,146.74L507.73,143.24L507.73,150.24Z" fill="#000080"/>
<path d="M507.01,144.09L512.94,140.59L512.94,147.59Z" fill="#000080"/>
<path d="M512.22,141.27L518.15,137.77L518.15,144.76Z" fill="#000080"/>
<path d="M517.43,138.07L523.36,134.57L523.36,141.57Z" fill="#000080"/>
<path d="M522.64,133.55L528.57,130.05L528.57,137.05Z" fill="#000080"/>
</g>
<rect x="320.20" y="12.90" width="218.00" height="161.10" fill="none" stroke="#1a1a1a" stroke-width="1.35"/>
<text x="314.50" y="173.90" text-anchor="end" font-size="10.6">0</text>
<text x="314.50" y="147.72" text-anchor="end" font-size="10.6">200</text>
<text x="314.50" y="121.54" text-anchor="end" font-size="10.6">400</text>
<text x="314.50" y="95.36" text-anchor="end" font-size="10.6">600</text>
<text x="314.50" y="69.18" text-anchor="end" font-size="10.6">800</text>
<text x="314.50" y="43.00" text-anchor="end" font-size="10.6">1000</text>
<text x="314.50" y="16.82" text-anchor="end" font-size="10.6">1200</text>
<path d="M320.20,170.20h-3.2M538.20,170.20h3.2M320.20,157.11h-1.9M538.20,157.11h1.9M320.20,144.02h-3.2M538.20,144.02h3.2M320.20,130.93h-1.9M538.20,130.93h1.9M320.20,117.84h-3.2M538.20,117.84h3.2M320.20,104.75h-1.9M538.20,104.75h1.9M320.20,91.66h-3.2M538.20,91.66h3.2M320.20,78.57h-1.9M538.20,78.57h1.9M320.20,65.48h-3.2M538.20,65.48h3.2M320.20,52.39h-1.9M538.20,52.39h1.9M320.20,39.30h-3.2M538.20,39.30h3.2M320.20,26.21h-1.9M538.20,26.21h1.9M320.20,13.12h-3.2M538.20,13.12h3.2M323.30,174.00v3.2M323.30,12.90v-3.2M344.17,174.00v1.9M344.17,12.90v-1.9M356.38,174.00v1.9M356.38,12.90v-1.9M365.04,174.00v1.9M365.04,12.90v-1.9M371.76,174.00v1.9M371.76,12.90v-1.9M377.25,174.00v1.9M377.25,12.90v-1.9M381.89,174.00v1.9M381.89,12.90v-1.9M385.91,174.00v1.9M385.91,12.90v-1.9M389.46,174.00v1.9M389.46,12.90v-1.9M392.63,174.00v3.2M392.63,12.90v-3.2M413.50,174.00v1.9M413.50,12.90v-1.9M425.71,174.00v1.9M425.71,12.90v-1.9M434.37,174.00v1.9M434.37,12.90v-1.9M441.09,174.00v1.9M441.09,12.90v-1.9M446.58,174.00v1.9M446.58,12.90v-1.9M451.22,174.00v1.9M451.22,12.90v-1.9M455.24,174.00v1.9M455.24,12.90v-1.9M458.79,174.00v1.9M458.79,12.90v-1.9M461.96,174.00v3.2M461.96,12.90v-3.2M482.83,174.00v1.9M482.83,12.90v-1.9M495.04,174.00v1.9M495.04,12.90v-1.9M503.70,174.00v1.9M503.70,12.90v-1.9M510.42,174.00v1.9M510.42,12.90v-1.9M515.91,174.00v1.9M515.91,12.90v-1.9M520.55,174.00v1.9M520.55,12.90v-1.9M524.57,174.00v1.9M524.57,12.90v-1.9M528.12,174.00v1.9M528.12,12.90v-1.9M531.29,174.00v3.2M531.29,12.90v-3.2" stroke="#1a1a1a" stroke-width="1.1" fill="none"/>
<text x="315.90" y="190.30" font-size="10.6">10<tspan font-size="6.9" dy="-5.4">3</tspan></text>
<text x="385.23" y="190.30" font-size="10.6">10<tspan font-size="6.9" dy="-5.4">4</tspan></text>
<text x="454.56" y="190.30" font-size="10.6">10<tspan font-size="6.9" dy="-5.4">5</tspan></text>
<text x="523.89" y="190.30" font-size="10.6">10<tspan font-size="6.9" dy="-5.4">6</tspan></text>
<text x="279.6" y="200.1" font-size="10.7">(b)</text>
<rect x="478.99" y="19.99" width="5.03" height="5.03" fill="#000000"/>
<text x="494.4" y="25.50" font-size="9.1" class="lg"><tspan font-family='"Liberation Serif", serif' font-style="italic" fill="#333" stroke="none">B</tspan> = 0.0 T</text>
<circle cx="481.50" cy="34.00" r="2.81" fill="#ff0000"/>
<text x="494.4" y="37.00" font-size="9.1" class="lg"><tspan font-family='"Liberation Serif", serif' font-style="italic" fill="#333" stroke="none">B</tspan> = 0.1 T</text>
<path d="M481.50,42.10L484.82,47.77L478.18,47.77Z" fill="#0000ff"/>
<text x="494.4" y="48.50" font-size="9.1" class="lg"><tspan font-family='"Liberation Serif", serif' font-style="italic" fill="#333" stroke="none">B</tspan> = 0.2 T</text>
<path d="M481.50,60.40L484.82,54.73L478.18,54.73Z" fill="#ff00ff"/>
<text x="494.4" y="60.00" font-size="9.1" class="lg"><tspan font-family='"Liberation Serif", serif' font-style="italic" fill="#333" stroke="none">B</tspan> = 0.3 T</text>
<path d="M481.50,64.97L485.03,68.50L481.50,72.03L477.97,68.50Z" fill="#008000"/>
<text x="494.4" y="71.50" font-size="9.1" class="lg"><tspan font-family='"Liberation Serif", serif' font-style="italic" fill="#333" stroke="none">B</tspan> = 0.4 T</text>
<path d="M477.90,80.00L483.90,76.47L483.90,83.53Z" fill="#000080"/>
<text x="494.4" y="83.00" font-size="9.1" class="lg"><tspan font-family='"Liberation Serif", serif' font-style="italic" fill="#333" stroke="none">B</tspan> = 0.5 T</text>
<text x="409.0" y="198.6" font-family='"Liberation Serif", serif' font-size="11" class="sf"><tspan font-style="italic">f</tspan>,<tspan dx="1.1"> (Hz)</tspan></text>
<g transform="translate(286.6,125.0) rotate(-90)" font-size="10">
<text transform="translate(-1.2,0) scale(1.12,1)" x="0" y="0">10<tspan font-size="7.6" dx="0.4" dy="-4.2">6</tspan></text>
<text x="17.9" y="0" font-family='"Liberation Serif", serif' font-style="italic" font-size="11" class="sf">x</text>
<text x="27.3" y="0" font-family='"Liberation Serif", serif' font-style="italic" font-size="13" class="sf">σ</text>
<text x="34.8" y="2.2" font-family='"Liberation Serif", serif' font-style="italic" font-size="13" class="sf">''</text>
<text x="38.8" y="0">,</text>
<text transform="translate(45.5,0) scale(1.08,1)" x="0" y="0">(1/Ω m)</text>
</g>
<g clip-path="url(#clipc)">
<rect x="48.51" y="367.31" width="4.98" height="4.98" fill="#000000"/>
<rect x="53.71" y="367.30" width="4.98" height="4.98" fill="#000000"/>
<rect x="58.92" y="367.28" width="4.98" height="4.98" fill="#000000"/>
<rect x="64.12" y="367.27" width="4.98" height="4.98" fill="#000000"/>
<rect x="69.33" y="367.26" width="4.98" height="4.98" fill="#000000"/>
<rect x="74.53" y="367.24" width="4.98" height="4.98" fill="#000000"/>
<rect x="79.74" y="367.23" width="4.98" height="4.98" fill="#000000"/>
<rect x="84.94" y="367.21" width="4.98" height="4.98" fill="#000000"/>
<rect x="90.15" y="367.19" width="4.98" height="4.98" fill="#000000"/>
<rect x="95.36" y="367.17" width="4.98" height="4.98" fill="#000000"/>
<rect x="100.56" y="367.14" width="4.98" height="4.98" fill="#000000"/>
<rect x="105.77" y="367.12" width="4.98" height="4.98" fill="#000000"/>
<rect x="110.97" y="367.09" width="4.98" height="4.98" fill="#000000"/>
<rect x="116.18" y="367.06" width="4.98" height="4.98" fill="#000000"/>
<rect x="121.38" y="367.02" width="4.98" height="4.98" fill="#000000"/>
<rect x="126.59" y="366.96" width="4.98" height="4.98" fill="#000000"/>
<rect x="131.79" y="366.89" width="4.98" height="4.98" fill="#000000"/>
<rect x="137.00" y="366.82" width="4.98" height="4.98" fill="#000000"/>
<rect x="142.20" y="366.74" width="4.98" height="4.98" fill="#000000"/>
<rect x="147.41" y="366.64" width="4.98" height="4.98" fill="#000000"/>
<rect x="152.61" y="366.53" width="4.98" height="4.98" fill="#000000"/>
<rect x="157.82" y="366.40" width="4.98" height="4.98" fill="#000000"/>
<rect x="163.02" y="366.26" width="4.98" height="4.98" fill="#000000"/>
<rect x="168.23" y="366.10" width="4.98" height="4.98" fill="#000000"/>
<rect x="173.43" y="365.90" width="4.98" height="4.98" fill="#000000"/>
<rect x="178.64" y="365.39" width="4.98" height="4.98" fill="#000000"/>
<rect x="183.84" y="364.72" width="4.98" height="4.98" fill="#000000"/>
<rect x="189.05" y="363.95" width="4.98" height="4.98" fill="#000000"/>
<rect x="194.25" y="362.97" width="4.98" height="4.98" fill="#000000"/>
<rect x="199.46" y="361.76" width="4.98" height="4.98" fill="#000000"/>
<rect x="204.66" y="360.25" width="4.98" height="4.98" fill="#000000"/>
<rect x="209.87" y="358.60" width="4.98" height="4.98" fill="#000000"/>
<rect x="215.07" y="356.60" width="4.98" height="4.98" fill="#000000"/>
<rect x="220.28" y="354.44" width="4.98" height="4.98" fill="#000000"/>
<rect x="225.48" y="352.14" width="4.98" height="4.98" fill="#000000"/>
<rect x="230.69" y="349.43" width="4.98" height="4.98" fill="#000000"/>
<rect x="235.89" y="346.23" width="4.98" height="4.98" fill="#000000"/>
<rect x="241.10" y="342.47" width="4.98" height="4.98" fill="#000000"/>
<rect x="246.30" y="338.78" width="4.98" height="4.98" fill="#000000"/>
<rect x="251.51" y="333.76" width="4.98" height="4.98" fill="#000000"/>
<circle cx="51.00" cy="369.27" r="2.78" fill="#ff0000"/>
<circle cx="56.21" cy="369.26" r="2.78" fill="#ff0000"/>
<circle cx="61.41" cy="369.25" r="2.78" fill="#ff0000"/>
<circle cx="66.62" cy="369.23" r="2.78" fill="#ff0000"/>
<circle cx="71.82" cy="369.22" r="2.78" fill="#ff0000"/>
<circle cx="77.03" cy="369.20" r="2.78" fill="#ff0000"/>
<circle cx="82.23" cy="369.19" r="2.78" fill="#ff0000"/>
<circle cx="87.44" cy="369.17" r="2.78" fill="#ff0000"/>
<circle cx="92.64" cy="369.15" r="2.78" fill="#ff0000"/>
<circle cx="97.85" cy="369.12" r="2.78" fill="#ff0000"/>
<circle cx="103.05" cy="369.10" r="2.78" fill="#ff0000"/>
<circle cx="108.26" cy="369.07" r="2.78" fill="#ff0000"/>
<circle cx="113.46" cy="369.05" r="2.78" fill="#ff0000"/>
<circle cx="118.67" cy="369.02" r="2.78" fill="#ff0000"/>
<circle cx="123.87" cy="368.97" r="2.78" fill="#ff0000"/>
<circle cx="129.08" cy="368.91" r="2.78" fill="#ff0000"/>
<circle cx="134.28" cy="368.84" r="2.78" fill="#ff0000"/>
<circle cx="139.49" cy="368.76" r="2.78" fill="#ff0000"/>
<circle cx="144.69" cy="368.67" r="2.78" fill="#ff0000"/>
<circle cx="149.90" cy="368.57" r="2.78" fill="#ff0000"/>
<circle cx="155.10" cy="368.46" r="2.78" fill="#ff0000"/>
<circle cx="160.31" cy="368.33" r="2.78" fill="#ff0000"/>
<circle cx="165.51" cy="368.18" r="2.78" fill="#ff0000"/>
<circle cx="170.72" cy="368.01" r="2.78" fill="#ff0000"/>
<circle cx="175.92" cy="367.80" r="2.78" fill="#ff0000"/>
<circle cx="181.13" cy="367.27" r="2.78" fill="#ff0000"/>
<circle cx="186.33" cy="366.57" r="2.78" fill="#ff0000"/>
<circle cx="191.54" cy="365.77" r="2.78" fill="#ff0000"/>
<circle cx="196.74" cy="364.75" r="2.78" fill="#ff0000"/>
<circle cx="201.95" cy="363.49" r="2.78" fill="#ff0000"/>
<circle cx="207.15" cy="361.92" r="2.78" fill="#ff0000"/>
<circle cx="212.36" cy="360.20" r="2.78" fill="#ff0000"/>
<circle cx="217.56" cy="358.12" r="2.78" fill="#ff0000"/>
<circle cx="222.77" cy="355.87" r="2.78" fill="#ff0000"/>
<circle cx="227.97" cy="353.47" r="2.78" fill="#ff0000"/>
<circle cx="233.18" cy="350.64" r="2.78" fill="#ff0000"/>
<circle cx="238.38" cy="347.32" r="2.78" fill="#ff0000"/>
<circle cx="243.59" cy="343.40" r="2.78" fill="#ff0000"/>
<circle cx="248.79" cy="339.55" r="2.78" fill="#ff0000"/>
<circle cx="254.00" cy="334.33" r="2.78" fill="#ff0000"/>
<path d="M51.00,365.77L54.29,371.39L47.71,371.39Z" fill="#0000ff"/>
<path d="M56.21,365.74L59.49,371.36L52.92,371.36Z" fill="#0000ff"/>
<path d="M61.41,365.71L64.70,371.32L58.12,371.32Z" fill="#0000ff"/>
<path d="M66.62,365.67L69.90,371.29L63.33,371.29Z" fill="#0000ff"/>
<path d="M71.82,365.63L75.11,371.25L68.53,371.25Z" fill="#0000ff"/>
<path d="M77.03,365.59L80.31,371.21L73.74,371.21Z" fill="#0000ff"/>
<path d="M82.23,365.54L85.52,371.16L78.94,371.16Z" fill="#0000ff"/>
<path d="M87.44,365.49L90.72,371.10L84.15,371.10Z" fill="#0000ff"/>
<path d="M92.64,365.43L95.93,371.04L89.36,371.04Z" fill="#0000ff"/>
<path d="M97.85,365.36L101.13,370.98L94.56,370.98Z" fill="#0000ff"/>
<path d="M103.05,365.29L106.34,370.90L99.77,370.90Z" fill="#0000ff"/>
<path d="M108.26,365.20L111.54,370.82L104.97,370.82Z" fill="#0000ff"/>
<path d="M113.46,365.11L116.75,370.73L110.18,370.73Z" fill="#0000ff"/>
<path d="M118.67,365.01L121.95,370.63L115.38,370.63Z" fill="#0000ff"/>
<path d="M123.87,364.88L127.16,370.50L120.59,370.50Z" fill="#0000ff"/>
<path d="M129.08,364.72L132.36,370.34L125.79,370.34Z" fill="#0000ff"/>
<path d="M134.28,364.54L137.57,370.15L131.00,370.15Z" fill="#0000ff"/>
<path d="M139.49,364.33L142.77,369.95L136.20,369.95Z" fill="#0000ff"/>
<path d="M144.69,364.09L147.98,369.71L141.41,369.71Z" fill="#0000ff"/>
<path d="M149.90,363.82L153.18,369.44L146.61,369.44Z" fill="#0000ff"/>
<path d="M155.10,363.52L158.39,369.13L151.82,369.13Z" fill="#0000ff"/>
<path d="M160.31,363.17L163.59,368.79L157.02,368.79Z" fill="#0000ff"/>
<path d="M165.51,362.77L168.80,368.39L162.23,368.39Z" fill="#0000ff"/>
<path d="M170.72,362.32L174.00,367.94L167.43,367.94Z" fill="#0000ff"/>
<path d="M175.92,361.80L179.21,367.42L172.64,367.42Z" fill="#0000ff"/>
<path d="M181.13,361.22L184.41,366.83L177.84,366.83Z" fill="#0000ff"/>
<path d="M186.33,360.55L189.62,366.17L183.05,366.17Z" fill="#0000ff"/>
<path d="M191.54,359.76L194.82,365.38L188.25,365.38Z" fill="#0000ff"/>
<path d="M196.74,358.63L200.03,364.25L193.46,364.25Z" fill="#0000ff"/>
<path d="M201.95,357.30L205.23,362.92L198.66,362.92Z" fill="#0000ff"/>
<path d="M207.15,355.69L210.44,361.31L203.87,361.31Z" fill="#0000ff"/>
<path d="M212.36,353.79L215.64,359.40L209.07,359.40Z" fill="#0000ff"/>
<path d="M217.56,351.55L220.85,357.17L214.28,357.17Z" fill="#0000ff"/>
<path d="M222.77,348.97L226.06,354.59L219.48,354.59Z" fill="#0000ff"/>
<path d="M227.97,346.57L231.26,352.19L224.69,352.19Z" fill="#0000ff"/>
<path d="M233.18,343.83L236.47,349.45L229.89,349.45Z" fill="#0000ff"/>
<path d="M238.38,340.71L241.67,346.33L235.10,346.33Z" fill="#0000ff"/>
<path d="M243.59,337.15L246.88,342.77L240.30,342.77Z" fill="#0000ff"/>
<path d="M248.79,332.92L252.08,338.54L245.51,338.54Z" fill="#0000ff"/>
<path d="M254.00,327.44L257.29,333.06L250.71,333.06Z" fill="#0000ff"/>
<path d="M51.00,372.38L54.29,366.76L47.71,366.76Z" fill="#ff00ff"/>
<path d="M56.21,372.34L59.49,366.72L52.92,366.72Z" fill="#ff00ff"/>
<path d="M61.41,372.29L64.70,366.67L58.12,366.67Z" fill="#ff00ff"/>
<path d="M66.62,372.23L69.90,366.62L63.33,366.62Z" fill="#ff00ff"/>
<path d="M71.82,372.18L75.11,366.56L68.53,366.56Z" fill="#ff00ff"/>
<path d="M77.03,372.11L80.31,366.49L73.74,366.49Z" fill="#ff00ff"/>
<path d="M82.23,372.04L85.52,366.42L78.94,366.42Z" fill="#ff00ff"/>
<path d="M87.44,371.96L90.72,366.34L84.15,366.34Z" fill="#ff00ff"/>
<path d="M92.64,371.87L95.93,366.25L89.36,366.25Z" fill="#ff00ff"/>
<path d="M97.85,371.77L101.13,366.15L94.56,366.15Z" fill="#ff00ff"/>
<path d="M103.05,371.66L106.34,366.04L99.77,366.04Z" fill="#ff00ff"/>
<path d="M108.26,371.53L111.54,365.91L104.97,365.91Z" fill="#ff00ff"/>
<path d="M113.46,371.40L116.75,365.78L110.18,365.78Z" fill="#ff00ff"/>
<path d="M118.67,371.24L121.95,365.63L115.38,365.63Z" fill="#ff00ff"/>
<path d="M123.87,371.06L127.16,365.45L120.59,365.45Z" fill="#ff00ff"/>
<path d="M129.08,370.86L132.36,365.24L125.79,365.24Z" fill="#ff00ff"/>
<path d="M134.28,370.63L137.57,365.01L131.00,365.01Z" fill="#ff00ff"/>
<path d="M139.49,370.37L142.77,364.76L136.20,364.76Z" fill="#ff00ff"/>
<path d="M144.69,370.09L147.98,364.47L141.41,364.47Z" fill="#ff00ff"/>
<path d="M149.90,369.76L153.18,364.15L146.61,364.15Z" fill="#ff00ff"/>
<path d="M155.10,369.40L158.39,363.78L151.82,363.78Z" fill="#ff00ff"/>
<path d="M160.31,369.00L163.59,363.38L157.02,363.38Z" fill="#ff00ff"/>
<path d="M165.51,368.55L168.80,362.93L162.23,362.93Z" fill="#ff00ff"/>
<path d="M170.72,368.04L174.00,362.42L167.43,362.42Z" fill="#ff00ff"/>
<path d="M175.92,367.47L179.21,361.85L172.64,361.85Z" fill="#ff00ff"/>
<path d="M181.13,366.81L184.41,361.20L177.84,361.20Z" fill="#ff00ff"/>
<path d="M186.33,365.81L189.62,360.20L183.05,360.20Z" fill="#ff00ff"/>
<path d="M191.54,364.66L194.82,359.04L188.25,359.04Z" fill="#ff00ff"/>
<path d="M196.74,363.40L200.03,357.78L193.46,357.78Z" fill="#ff00ff"/>
<path d="M201.95,361.94L205.23,356.32L198.66,356.32Z" fill="#ff00ff"/>
<path d="M207.15,360.01L210.44,354.39L203.87,354.39Z" fill="#ff00ff"/>
<path d="M212.36,357.75L215.64,352.13L209.07,352.13Z" fill="#ff00ff"/>
<path d="M217.56,355.20L220.85,349.59L214.28,349.59Z" fill="#ff00ff"/>
<path d="M222.77,352.30L226.06,346.69L219.48,346.69Z" fill="#ff00ff"/>
<path d="M227.97,349.85L231.26,344.23L224.69,344.23Z" fill="#ff00ff"/>
<path d="M233.18,347.10L236.47,341.49L229.89,341.49Z" fill="#ff00ff"/>
<path d="M238.38,344.03L241.67,338.41L235.10,338.41Z" fill="#ff00ff"/>
<path d="M243.59,340.10L246.88,334.49L240.30,334.49Z" fill="#ff00ff"/>
<path d="M248.79,335.36L252.08,329.74L245.51,329.74Z" fill="#ff00ff"/>
<path d="M254.00,329.87L257.29,324.25L250.71,324.25Z" fill="#ff00ff"/>
<path d="M51.00,365.38L54.50,368.88L51.00,372.38L47.50,368.88Z" fill="#008000"/>
<path d="M56.21,365.32L59.70,368.81L56.21,372.31L52.71,368.81Z" fill="#008000"/>
<path d="M61.41,365.25L64.91,368.74L61.41,372.24L57.91,368.74Z" fill="#008000"/>
<path d="M66.62,365.17L70.11,368.67L66.62,372.16L63.12,368.67Z" fill="#008000"/>
<path d="M71.82,365.08L75.32,368.58L71.82,372.07L68.32,368.58Z" fill="#008000"/>
<path d="M77.03,364.98L80.52,368.48L77.03,371.98L73.53,368.48Z" fill="#008000"/>
<path d="M82.23,364.87L85.73,368.37L82.23,371.87L78.73,368.37Z" fill="#008000"/>
<path d="M87.44,364.75L90.93,368.24L87.44,371.74L83.94,368.24Z" fill="#008000"/>
<path d="M92.64,364.61L96.14,368.10L92.64,371.60L89.14,368.10Z" fill="#008000"/>
<path d="M97.85,364.45L101.34,367.95L97.85,371.45L94.35,367.95Z" fill="#008000"/>
<path d="M103.05,364.28L106.55,367.77L103.05,371.27L99.55,367.77Z" fill="#008000"/>
<path d="M108.26,364.08L111.75,367.58L108.26,371.08L104.76,367.58Z" fill="#008000"/>
<path d="M113.46,363.86L116.96,367.36L113.46,370.86L109.96,367.36Z" fill="#008000"/>
<path d="M118.67,363.62L122.16,367.11L118.67,370.61L115.17,367.11Z" fill="#008000"/>
<path d="M123.87,363.37L127.37,366.87L123.87,370.37L120.37,366.87Z" fill="#008000"/>
<path d="M129.08,363.11L132.57,366.60L129.08,370.10L125.58,366.60Z" fill="#008000"/>
<path d="M134.28,362.82L137.78,366.31L134.28,369.81L130.78,366.31Z" fill="#008000"/>
<path d="M139.49,362.49L142.99,365.99L139.49,369.49L135.99,365.99Z" fill="#008000"/>
<path d="M144.69,362.14L148.19,365.64L144.69,369.14L141.19,365.64Z" fill="#008000"/>
<path d="M149.90,361.75L153.40,365.25L149.90,368.75L146.40,365.25Z" fill="#008000"/>
<path d="M155.10,361.32L158.60,364.82L155.10,368.31L151.60,364.82Z" fill="#008000"/>
<path d="M160.31,360.84L163.81,364.34L160.31,367.84L156.81,364.34Z" fill="#008000"/>
<path d="M165.51,360.31L169.01,363.81L165.51,367.31L162.01,363.81Z" fill="#008000"/>
<path d="M170.72,359.72L174.22,363.22L170.72,366.72L167.22,363.22Z" fill="#008000"/>
<path d="M175.92,358.85L179.42,362.34L175.92,365.84L172.43,362.34Z" fill="#008000"/>
<path d="M181.13,357.84L184.63,361.34L181.13,364.83L177.63,361.34Z" fill="#008000"/>
<path d="M186.33,356.64L189.83,360.14L186.33,363.64L182.84,360.14Z" fill="#008000"/>
<path d="M191.54,355.27L195.04,358.77L191.54,362.26L188.04,358.77Z" fill="#008000"/>
<path d="M196.74,353.71L200.24,357.21L196.74,360.70L193.25,357.21Z" fill="#008000"/>
<path d="M201.95,351.92L205.45,355.42L201.95,358.91L198.45,355.42Z" fill="#008000"/>
<path d="M207.15,349.84L210.65,353.34L207.15,356.84L203.66,353.34Z" fill="#008000"/>
<path d="M212.36,347.45L215.86,350.95L212.36,354.45L208.86,350.95Z" fill="#008000"/>
<path d="M217.56,344.58L221.06,348.08L217.56,351.58L214.07,348.08Z" fill="#008000"/>
<path d="M222.77,341.41L226.27,344.91L222.77,348.41L219.27,344.91Z" fill="#008000"/>
<path d="M227.97,339.33L231.47,342.83L227.97,346.33L224.48,342.83Z" fill="#008000"/>
<path d="M233.18,336.38L236.68,339.87L233.18,343.37L229.68,339.87Z" fill="#008000"/>
<path d="M238.38,332.72L241.88,336.21L238.38,339.71L234.89,336.21Z" fill="#008000"/>
<path d="M243.59,328.27L247.09,331.77L243.59,335.27L240.09,331.77Z" fill="#008000"/>
<path d="M248.79,323.53L252.29,327.02L248.79,330.52L245.30,327.02Z" fill="#008000"/>
<path d="M254.00,317.65L257.50,321.15L254.00,324.65L250.50,321.15Z" fill="#008000"/>
<path d="M47.44,368.62L53.37,365.12L53.37,372.11Z" fill="#000080"/>
<path d="M52.64,368.52L58.58,365.02L58.58,372.02Z" fill="#000080"/>
<path d="M57.85,368.41L63.78,364.91L63.78,371.91Z" fill="#000080"/>
<path d="M63.05,368.29L68.99,364.79L68.99,371.79Z" fill="#000080"/>
<path d="M68.26,368.15L74.19,364.65L74.19,371.65Z" fill="#000080"/>
<path d="M73.46,368.00L79.40,364.50L79.40,371.50Z" fill="#000080"/>
<path d="M78.67,367.83L84.61,364.33L84.61,371.32Z" fill="#000080"/>
<path d="M83.87,367.63L89.81,364.13L89.81,371.13Z" fill="#000080"/>
<path d="M89.08,367.41L95.02,363.92L95.02,370.91Z" fill="#000080"/>
<path d="M94.28,367.17L100.22,363.67L100.22,370.67Z" fill="#000080"/>
<path d="M99.49,366.89L105.43,363.40L105.43,370.39Z" fill="#000080"/>
<path d="M104.69,366.58L110.63,363.09L110.63,370.08Z" fill="#000080"/>
<path d="M109.90,366.24L115.84,362.74L115.84,369.74Z" fill="#000080"/>
<path d="M115.11,365.85L121.04,362.35L121.04,369.35Z" fill="#000080"/>
<path d="M120.31,365.44L126.25,361.94L126.25,368.93Z" fill="#000080"/>
<path d="M125.52,364.98L131.45,361.49L131.45,368.48Z" fill="#000080"/>
<path d="M130.72,364.48L136.66,360.98L136.66,367.98Z" fill="#000080"/>
<path d="M135.93,363.92L141.86,360.43L141.86,367.42Z" fill="#000080"/>
<path d="M141.13,363.30L147.07,359.80L147.07,366.80Z" fill="#000080"/>
<path d="M146.34,362.61L152.27,359.11L152.27,366.11Z" fill="#000080"/>
<path d="M151.54,361.83L157.48,358.34L157.48,365.33Z" fill="#000080"/>
<path d="M156.75,361.06L162.68,357.57L162.68,364.56Z" fill="#000080"/>
<path d="M161.95,360.22L167.89,356.72L167.89,363.71Z" fill="#000080"/>
<path d="M167.16,359.33L173.09,355.83L173.09,362.83Z" fill="#000080"/>
<path d="M172.36,358.35L178.30,354.85L178.30,361.85Z" fill="#000080"/>
<path d="M177.57,357.19L183.50,353.69L183.50,360.69Z" fill="#000080"/>
<path d="M182.77,355.91L188.71,352.42L188.71,359.41Z" fill="#000080"/>
<path d="M187.98,354.57L193.91,351.07L193.91,358.07Z" fill="#000080"/>
<path d="M193.18,353.08L199.12,349.58L199.12,356.58Z" fill="#000080"/>
<path d="M198.39,351.30L204.32,347.80L204.32,354.79Z" fill="#000080"/>
<path d="M203.59,349.29L209.53,345.79L209.53,352.78Z" fill="#000080"/>
<path d="M208.80,346.80L214.73,343.30L214.73,350.30Z" fill="#000080"/>
<path d="M214.00,343.91L219.94,340.41L219.94,347.41Z" fill="#000080"/>
<path d="M219.21,340.13L225.14,336.64L225.14,343.63Z" fill="#000080"/>
<path d="M224.41,337.19L230.35,333.69L230.35,340.69Z" fill="#000080"/>
<path d="M229.62,332.68L235.55,329.18L235.55,336.18Z" fill="#000080"/>
<path d="M234.82,327.63L240.76,324.13L240.76,331.13Z" fill="#000080"/>
<path d="M240.03,321.88L245.96,318.38L245.96,325.38Z" fill="#000080"/>
<path d="M245.23,315.01L251.17,311.51L251.17,318.51Z" fill="#000080"/>
<path d="M250.44,307.71L256.37,304.21L256.37,311.21Z" fill="#000080"/>
</g>
<rect x="48.00" y="212.50" width="217.60" height="160.60" fill="none" stroke="#1a1a1a" stroke-width="1.35"/>
<text x="42.30" y="373.10" text-anchor="end" font-size="10.6">0</text>
<text x="42.30" y="346.96" text-anchor="end" font-size="10.6">200</text>
<text x="42.30" y="320.82" text-anchor="end" font-size="10.6">400</text>
<text x="42.30" y="294.68" text-anchor="end" font-size="10.6">600</text>
<text x="42.30" y="268.54" text-anchor="end" font-size="10.6">800</text>
<text x="42.30" y="242.40" text-anchor="end" font-size="10.6">1000</text>
<text x="42.30" y="216.26" text-anchor="end" font-size="10.6">1200</text>
<path d="M48.00,369.40h-3.2M265.60,369.40h3.2M48.00,356.33h-1.9M265.60,356.33h1.9M48.00,343.26h-3.2M265.60,343.26h3.2M48.00,330.19h-1.9M265.60,330.19h1.9M48.00,317.12h-3.2M265.60,317.12h3.2M48.00,304.05h-1.9M265.60,304.05h1.9M48.00,290.98h-3.2M265.60,290.98h3.2M48.00,277.91h-1.9M265.60,277.91h1.9M48.00,264.84h-3.2M265.60,264.84h3.2M48.00,251.77h-1.9M265.60,251.77h1.9M48.00,238.70h-3.2M265.60,238.70h3.2M48.00,225.63h-1.9M265.60,225.63h1.9M48.00,212.56h-3.2M265.60,212.56h3.2M51.30,373.10v3.2M51.30,212.50v-3.2M72.15,373.10v1.9M72.15,212.50v-1.9M84.35,373.10v1.9M84.35,212.50v-1.9M93.00,373.10v1.9M93.00,212.50v-1.9M99.72,373.10v1.9M99.72,212.50v-1.9M105.20,373.10v1.9M105.20,212.50v-1.9M109.84,373.10v1.9M109.84,212.50v-1.9M113.86,373.10v1.9M113.86,212.50v-1.9M117.40,373.10v1.9M117.40,212.50v-1.9M120.57,373.10v3.2M120.57,212.50v-3.2M141.42,373.10v1.9M141.42,212.50v-1.9M153.62,373.10v1.9M153.62,212.50v-1.9M162.27,373.10v1.9M162.27,212.50v-1.9M168.99,373.10v1.9M168.99,212.50v-1.9M174.47,373.10v1.9M174.47,212.50v-1.9M179.11,373.10v1.9M179.11,212.50v-1.9M183.13,373.10v1.9M183.13,212.50v-1.9M186.67,373.10v1.9M186.67,212.50v-1.9M189.84,373.10v3.2M189.84,212.50v-3.2M210.69,373.10v1.9M210.69,212.50v-1.9M222.89,373.10v1.9M222.89,212.50v-1.9M231.54,373.10v1.9M231.54,212.50v-1.9M238.26,373.10v1.9M238.26,212.50v-1.9M243.74,373.10v1.9M243.74,212.50v-1.9M248.38,373.10v1.9M248.38,212.50v-1.9M252.40,373.10v1.9M252.40,212.50v-1.9M255.94,373.10v1.9M255.94,212.50v-1.9M259.11,373.10v3.2M259.11,212.50v-3.2" stroke="#1a1a1a" stroke-width="1.1" fill="none"/>
<text x="43.90" y="389.60" font-size="10.6">10<tspan font-size="6.9" dy="-5.4">3</tspan></text>
<text x="113.17" y="389.60" font-size="10.6">10<tspan font-size="6.9" dy="-5.4">4</tspan></text>
<text x="182.44" y="389.60" font-size="10.6">10<tspan font-size="6.9" dy="-5.4">5</tspan></text>
<text x="251.71" y="389.60" font-size="10.6">10<tspan font-size="6.9" dy="-5.4">6</tspan></text>
<text x="7.6" y="400.1" font-size="10.7">(c)</text>
<rect x="206.09" y="219.29" width="5.03" height="5.03" fill="#000000"/>
<text x="221.9" y="224.80" font-size="9.1" class="lg"><tspan font-family='"Liberation Serif", serif' font-style="italic" fill="#333" stroke="none">B</tspan> = 0.0 T</text>
<circle cx="208.60" cy="233.30" r="2.81" fill="#ff0000"/>
<text x="221.9" y="236.30" font-size="9.1" class="lg"><tspan font-family='"Liberation Serif", serif' font-style="italic" fill="#333" stroke="none">B</tspan> = 0.1 T</text>
<path d="M208.60,241.40L211.92,247.07L205.28,247.07Z" fill="#0000ff"/>
<text x="221.9" y="247.80" font-size="9.1" class="lg"><tspan font-family='"Liberation Serif", serif' font-style="italic" fill="#333" stroke="none">B</tspan> = 0.2 T</text>
<path d="M208.60,259.70L211.92,254.03L205.28,254.03Z" fill="#ff00ff"/>
<text x="221.9" y="259.30" font-size="9.1" class="lg"><tspan font-family='"Liberation Serif", serif' font-style="italic" fill="#333" stroke="none">B</tspan> = 0.3 T</text>
<path d="M208.60,264.27L212.13,267.80L208.60,271.33L205.07,267.80Z" fill="#008000"/>
<text x="221.9" y="270.80" font-size="9.1" class="lg"><tspan font-family='"Liberation Serif", serif' font-style="italic" fill="#333" stroke="none">B</tspan> = 0.4 T</text>
<path d="M205.00,279.30L211.00,275.77L211.00,282.83Z" fill="#000080"/>
<text x="221.9" y="282.30" font-size="9.1" class="lg"><tspan font-family='"Liberation Serif", serif' font-style="italic" fill="#333" stroke="none">B</tspan> = 0.5 T</text>
<text x="136.4" y="393.2" font-family='"Liberation Serif", serif' font-size="11" class="sf"><tspan font-style="italic">f</tspan>,<tspan dx="1.1"> (Hz)</tspan></text>
<g transform="translate(14.8,322.5) rotate(-90)" font-size="10">
<text transform="translate(-1.2,0) scale(1.12,1)" x="0" y="0">10<tspan font-size="7.6" dx="0.4" dy="-4.2">6</tspan></text>
<text x="17.9" y="0" font-family='"Liberation Serif", serif' font-style="italic" font-size="11" class="sf">x</text>
<text x="27.3" y="0" font-family='"Liberation Serif", serif' font-style="italic" font-size="13" class="sf">σ</text>
<text x="34.8" y="2.2" font-family='"Liberation Serif", serif' font-style="italic" font-size="13" class="sf">''</text>
<text x="38.8" y="0">,</text>
<text transform="translate(45.5,0) scale(1.08,1)" x="0" y="0">(1/Ω m)</text>
</g>
<g clip-path="url(#clipd)">
<rect x="319.06" y="366.29" width="4.89" height="4.89" fill="#000000"/>
<rect x="325.34" y="366.24" width="4.89" height="4.89" fill="#000000"/>
<rect x="331.63" y="366.19" width="4.89" height="4.89" fill="#000000"/>
<rect x="337.92" y="366.12" width="4.89" height="4.89" fill="#000000"/>
<rect x="344.21" y="366.05" width="4.89" height="4.89" fill="#000000"/>
<rect x="350.50" y="365.95" width="4.89" height="4.89" fill="#000000"/>
<rect x="356.78" y="365.85" width="4.89" height="4.89" fill="#000000"/>
<rect x="363.07" y="365.72" width="4.89" height="4.89" fill="#000000"/>
<rect x="369.36" y="365.58" width="4.89" height="4.89" fill="#000000"/>
<rect x="375.65" y="365.40" width="4.89" height="4.89" fill="#000000"/>
<rect x="381.93" y="365.20" width="4.89" height="4.89" fill="#000000"/>
<rect x="388.22" y="364.96" width="4.89" height="4.89" fill="#000000"/>
<rect x="394.51" y="364.67" width="4.89" height="4.89" fill="#000000"/>
<rect x="400.80" y="364.34" width="4.89" height="4.89" fill="#000000"/>
<rect x="407.09" y="363.95" width="4.89" height="4.89" fill="#000000"/>
<rect x="413.37" y="363.49" width="4.89" height="4.89" fill="#000000"/>
<rect x="419.66" y="362.94" width="4.89" height="4.89" fill="#000000"/>
<rect x="425.95" y="362.30" width="4.89" height="4.89" fill="#000000"/>
<rect x="432.24" y="361.17" width="4.89" height="4.89" fill="#000000"/>
<rect x="438.53" y="359.83" width="4.89" height="4.89" fill="#000000"/>
<rect x="444.81" y="358.45" width="4.89" height="4.89" fill="#000000"/>
<rect x="451.10" y="357.24" width="4.89" height="4.89" fill="#000000"/>
<rect x="457.39" y="356.12" width="4.89" height="4.89" fill="#000000"/>
<rect x="463.68" y="354.86" width="4.89" height="4.89" fill="#000000"/>
<rect x="469.97" y="352.98" width="4.89" height="4.89" fill="#000000"/>
<rect x="476.25" y="350.73" width="4.89" height="4.89" fill="#000000"/>
<rect x="482.54" y="348.12" width="4.89" height="4.89" fill="#000000"/>
<rect x="488.83" y="345.07" width="4.89" height="4.89" fill="#000000"/>
<rect x="495.12" y="341.52" width="4.89" height="4.89" fill="#000000"/>
<rect x="501.40" y="337.38" width="4.89" height="4.89" fill="#000000"/>
<rect x="507.69" y="332.99" width="4.89" height="4.89" fill="#000000"/>
<rect x="513.98" y="327.40" width="4.89" height="4.89" fill="#000000"/>
<rect x="520.27" y="320.21" width="4.89" height="4.89" fill="#000000"/>
<rect x="526.56" y="312.46" width="4.89" height="4.89" fill="#000000"/>
<circle cx="321.50" cy="368.60" r="2.73" fill="#ff0000"/>
<circle cx="327.79" cy="368.53" r="2.73" fill="#ff0000"/>
<circle cx="334.08" cy="368.45" r="2.73" fill="#ff0000"/>
<circle cx="340.36" cy="368.36" r="2.73" fill="#ff0000"/>
<circle cx="346.65" cy="368.25" r="2.73" fill="#ff0000"/>
<circle cx="352.94" cy="368.12" r="2.73" fill="#ff0000"/>
<circle cx="359.23" cy="367.97" r="2.73" fill="#ff0000"/>
<circle cx="365.52" cy="367.79" r="2.73" fill="#ff0000"/>
<circle cx="371.80" cy="367.58" r="2.73" fill="#ff0000"/>
<circle cx="378.09" cy="367.33" r="2.73" fill="#ff0000"/>
<circle cx="384.38" cy="367.05" r="2.73" fill="#ff0000"/>
<circle cx="390.67" cy="366.71" r="2.73" fill="#ff0000"/>
<circle cx="396.95" cy="366.32" r="2.73" fill="#ff0000"/>
<circle cx="403.24" cy="365.86" r="2.73" fill="#ff0000"/>
<circle cx="409.53" cy="365.32" r="2.73" fill="#ff0000"/>
<circle cx="415.82" cy="364.68" r="2.73" fill="#ff0000"/>
<circle cx="422.11" cy="363.94" r="2.73" fill="#ff0000"/>
<circle cx="428.39" cy="363.07" r="2.73" fill="#ff0000"/>
<circle cx="434.68" cy="361.67" r="2.73" fill="#ff0000"/>
<circle cx="440.97" cy="360.54" r="2.73" fill="#ff0000"/>
<circle cx="447.26" cy="358.93" r="2.73" fill="#ff0000"/>
<circle cx="453.55" cy="357.20" r="2.73" fill="#ff0000"/>
<circle cx="459.83" cy="355.58" r="2.73" fill="#ff0000"/>
<circle cx="466.12" cy="354.05" r="2.73" fill="#ff0000"/>
<circle cx="472.41" cy="351.81" r="2.73" fill="#ff0000"/>
<circle cx="478.70" cy="349.17" r="2.73" fill="#ff0000"/>
<circle cx="484.98" cy="346.13" r="2.73" fill="#ff0000"/>
<circle cx="491.27" cy="342.62" r="2.73" fill="#ff0000"/>
<circle cx="497.56" cy="338.57" r="2.73" fill="#ff0000"/>
<circle cx="503.85" cy="334.31" r="2.73" fill="#ff0000"/>
<circle cx="510.14" cy="328.49" r="2.73" fill="#ff0000"/>
<circle cx="516.42" cy="321.84" r="2.73" fill="#ff0000"/>
<circle cx="522.71" cy="314.79" r="2.73" fill="#ff0000"/>
<circle cx="529.00" cy="307.81" r="2.73" fill="#ff0000"/>
<path d="M321.50,365.03L324.72,370.54L318.28,370.54Z" fill="#0000ff"/>
<path d="M327.79,364.92L331.01,370.43L324.56,370.43Z" fill="#0000ff"/>
<path d="M334.08,364.79L337.30,370.30L330.85,370.30Z" fill="#0000ff"/>
<path d="M340.36,364.63L343.59,370.15L337.14,370.15Z" fill="#0000ff"/>
<path d="M346.65,364.46L349.88,369.97L343.43,369.97Z" fill="#0000ff"/>
<path d="M352.94,364.25L356.16,369.76L349.72,369.76Z" fill="#0000ff"/>
<path d="M359.23,364.01L362.45,369.52L356.00,369.52Z" fill="#0000ff"/>
<path d="M365.52,363.72L368.74,369.23L362.29,369.23Z" fill="#0000ff"/>
<path d="M371.80,363.39L375.03,368.90L368.58,368.90Z" fill="#0000ff"/>
<path d="M378.09,363.01L381.31,368.52L374.87,368.52Z" fill="#0000ff"/>
<path d="M384.38,362.55L387.60,368.07L381.15,368.07Z" fill="#0000ff"/>
<path d="M390.67,362.03L393.89,367.54L387.44,367.54Z" fill="#0000ff"/>
<path d="M396.95,361.41L400.18,366.92L393.73,366.92Z" fill="#0000ff"/>
<path d="M403.24,360.69L406.47,366.21L400.02,366.21Z" fill="#0000ff"/>
<path d="M409.53,359.85L412.75,365.37L406.31,365.37Z" fill="#0000ff"/>
<path d="M415.82,358.87L419.04,364.39L412.59,364.39Z" fill="#0000ff"/>
<path d="M422.11,357.73L425.33,363.24L418.88,363.24Z" fill="#0000ff"/>
<path d="M428.39,356.39L431.62,361.90L425.17,361.90Z" fill="#0000ff"/>
<path d="M434.68,354.83L437.91,360.34L431.46,360.34Z" fill="#0000ff"/>
<path d="M440.97,353.21L444.19,358.72L437.75,358.72Z" fill="#0000ff"/>
<path d="M447.26,351.42L450.48,356.94L444.03,356.94Z" fill="#0000ff"/>
<path d="M453.55,349.04L456.77,354.55L450.32,354.55Z" fill="#0000ff"/>
<path d="M459.83,346.67L463.06,352.18L456.61,352.18Z" fill="#0000ff"/>
<path d="M466.12,344.26L469.35,349.78L462.90,349.78Z" fill="#0000ff"/>
<path d="M472.41,341.44L475.63,346.95L469.19,346.95Z" fill="#0000ff"/>
<path d="M478.70,338.22L481.92,343.73L475.47,343.73Z" fill="#0000ff"/>
<path d="M484.98,334.58L488.21,340.09L481.76,340.09Z" fill="#0000ff"/>
<path d="M491.27,330.97L494.50,336.49L488.05,336.49Z" fill="#0000ff"/>
<path d="M497.56,326.23L500.78,331.75L494.34,331.75Z" fill="#0000ff"/>
<path d="M503.85,320.29L507.07,325.80L500.62,325.80Z" fill="#0000ff"/>
<path d="M510.14,313.25L513.36,318.76L506.91,318.76Z" fill="#0000ff"/>
<path d="M516.42,304.08L519.65,309.59L513.20,309.59Z" fill="#0000ff"/>
<path d="M522.71,293.64L525.94,299.15L519.49,299.15Z" fill="#0000ff"/>
<path d="M529.00,283.24L532.22,288.75L525.78,288.75Z" fill="#0000ff"/>
<path d="M321.50,371.38L324.72,365.87L318.28,365.87Z" fill="#ff00ff"/>
<path d="M327.79,371.23L331.01,365.72L324.56,365.72Z" fill="#ff00ff"/>
<path d="M334.08,371.05L337.30,365.54L330.85,365.54Z" fill="#ff00ff"/>
<path d="M340.36,370.85L343.59,365.34L337.14,365.34Z" fill="#ff00ff"/>
<path d="M346.65,370.62L349.88,365.11L343.43,365.11Z" fill="#ff00ff"/>
<path d="M352.94,370.35L356.16,364.84L349.72,364.84Z" fill="#ff00ff"/>
<path d="M359.23,370.04L362.45,364.52L356.00,364.52Z" fill="#ff00ff"/>
<path d="M365.52,369.67L368.74,364.16L362.29,364.16Z" fill="#ff00ff"/>
<path d="M371.80,369.25L375.03,363.74L368.58,363.74Z" fill="#ff00ff"/>
<path d="M378.09,368.76L381.31,363.25L374.87,363.25Z" fill="#ff00ff"/>
<path d="M384.38,368.19L387.60,362.68L381.15,362.68Z" fill="#ff00ff"/>
<path d="M390.67,367.53L393.89,362.02L387.44,362.02Z" fill="#ff00ff"/>
<path d="M396.95,366.76L400.18,361.25L393.73,361.25Z" fill="#ff00ff"/>
<path d="M403.24,365.87L406.47,360.36L400.02,360.36Z" fill="#ff00ff"/>
<path d="M409.53,364.84L412.75,359.33L406.31,359.33Z" fill="#ff00ff"/>
<path d="M415.82,363.65L419.04,358.13L412.59,358.13Z" fill="#ff00ff"/>
<path d="M422.11,362.26L425.33,356.74L418.88,356.74Z" fill="#ff00ff"/>
<path d="M428.39,360.68L431.62,355.17L425.17,355.17Z" fill="#ff00ff"/>
<path d="M434.68,358.73L437.91,353.22L431.46,353.22Z" fill="#ff00ff"/>
<path d="M440.97,356.58L444.19,351.07L437.75,351.07Z" fill="#ff00ff"/>
<path d="M447.26,353.99L450.48,348.48L444.03,348.48Z" fill="#ff00ff"/>
<path d="M453.55,351.06L456.77,345.55L450.32,345.55Z" fill="#ff00ff"/>
<path d="M459.83,347.95L463.06,342.44L456.61,342.44Z" fill="#ff00ff"/>
<path d="M466.12,344.54L469.35,339.03L462.90,339.03Z" fill="#ff00ff"/>
<path d="M472.41,340.79L475.63,335.27L469.19,335.27Z" fill="#ff00ff"/>
<path d="M478.70,337.18L481.92,331.67L475.47,331.67Z" fill="#ff00ff"/>
<path d="M484.98,333.32L488.21,327.81L481.76,327.81Z" fill="#ff00ff"/>
<path d="M491.27,328.43L494.50,322.92L488.05,322.92Z" fill="#ff00ff"/>
<path d="M497.56,323.40L500.78,317.89L494.34,317.89Z" fill="#ff00ff"/>
<path d="M503.85,317.32L507.07,311.81L500.62,311.81Z" fill="#ff00ff"/>
<path d="M510.14,310.41L513.36,304.90L506.91,304.90Z" fill="#ff00ff"/>
<path d="M516.42,300.71L519.65,295.19L513.20,295.19Z" fill="#ff00ff"/>
<path d="M522.71,288.55L525.94,283.04L519.49,283.04Z" fill="#ff00ff"/>
<path d="M529.00,274.88L532.22,269.37L525.78,269.37Z" fill="#ff00ff"/>
<path d="M321.50,364.37L324.93,367.80L321.50,371.24L318.07,367.80Z" fill="#008000"/>
<path d="M327.79,364.19L331.22,367.62L327.79,371.05L324.36,367.62Z" fill="#008000"/>
<path d="M334.08,363.97L337.51,367.40L334.08,370.83L330.64,367.40Z" fill="#008000"/>
<path d="M340.36,363.72L343.80,367.15L340.36,370.58L336.93,367.15Z" fill="#008000"/>
<path d="M346.65,363.43L350.08,366.86L346.65,370.29L343.22,366.86Z" fill="#008000"/>
<path d="M352.94,363.09L356.37,366.53L352.94,369.96L349.51,366.53Z" fill="#008000"/>
<path d="M359.23,362.71L362.66,366.14L359.23,369.57L355.80,366.14Z" fill="#008000"/>
<path d="M365.52,362.26L368.95,365.69L365.52,369.12L362.08,365.69Z" fill="#008000"/>
<path d="M371.80,361.74L375.24,365.17L371.80,368.60L368.37,365.17Z" fill="#008000"/>
<path d="M378.09,361.14L381.52,364.57L378.09,368.00L374.66,364.57Z" fill="#008000"/>
<path d="M384.38,360.45L387.81,363.88L384.38,367.31L380.95,363.88Z" fill="#008000"/>
<path d="M390.67,359.64L394.10,363.08L390.67,366.51L387.23,363.08Z" fill="#008000"/>
<path d="M396.95,358.72L400.39,362.15L396.95,365.58L393.52,362.15Z" fill="#008000"/>
<path d="M403.24,357.64L406.67,361.08L403.24,364.51L399.81,361.08Z" fill="#008000"/>
<path d="M409.53,356.07L412.96,359.50L409.53,362.93L406.10,359.50Z" fill="#008000"/>
<path d="M415.82,354.29L419.25,357.72L415.82,361.16L412.39,357.72Z" fill="#008000"/>
<path d="M422.11,352.32L425.54,355.75L422.11,359.18L418.67,355.75Z" fill="#008000"/>
<path d="M428.39,349.97L431.83,353.40L428.39,356.83L424.96,353.40Z" fill="#008000"/>
<path d="M434.68,347.22L438.11,350.65L434.68,354.08L431.25,350.65Z" fill="#008000"/>
<path d="M440.97,344.13L444.40,347.56L440.97,351.00L437.54,347.56Z" fill="#008000"/>
<path d="M447.26,340.45L450.69,343.88L447.26,347.31L443.83,343.88Z" fill="#008000"/>
<path d="M453.55,336.20L456.98,339.63L453.55,343.06L450.11,339.63Z" fill="#008000"/>
<path d="M459.83,332.08L463.27,335.51L459.83,338.94L456.40,335.51Z" fill="#008000"/>
<path d="M466.12,327.95L469.55,331.38L466.12,334.81L462.69,331.38Z" fill="#008000"/>
<path d="M472.41,323.31L475.84,326.74L472.41,330.17L468.98,326.74Z" fill="#008000"/>
<path d="M478.70,318.13L482.13,321.56L478.70,324.99L475.26,321.56Z" fill="#008000"/>
<path d="M484.98,312.21L488.42,315.64L484.98,319.08L481.55,315.64Z" fill="#008000"/>
<path d="M491.27,306.41L494.70,309.84L491.27,313.27L487.84,309.84Z" fill="#008000"/>
<path d="M497.56,299.66L500.99,303.10L497.56,306.53L494.13,303.10Z" fill="#008000"/>
<path d="M503.85,292.61L507.28,296.04L503.85,299.48L500.42,296.04Z" fill="#008000"/>
<path d="M510.14,284.25L513.57,287.68L510.14,291.12L506.70,287.68Z" fill="#008000"/>
<path d="M516.42,274.14L519.86,277.57L516.42,281.00L512.99,277.57Z" fill="#008000"/>
<path d="M522.71,261.02L526.14,264.46L522.71,267.89L519.28,264.46Z" fill="#008000"/>
<path d="M529.00,244.17L532.43,247.60L529.00,251.03L525.57,247.60Z" fill="#008000"/>
<path d="M318.01,367.54L323.83,364.11L323.83,370.97Z" fill="#000080"/>
<path d="M324.29,367.33L330.12,363.90L330.12,370.77Z" fill="#000080"/>
<path d="M330.58,367.10L336.41,363.67L336.41,370.53Z" fill="#000080"/>
<path d="M336.87,366.83L342.69,363.40L342.69,370.26Z" fill="#000080"/>
<path d="M343.16,366.52L348.98,363.09L348.98,369.95Z" fill="#000080"/>
<path d="M349.44,366.17L355.27,362.74L355.27,369.60Z" fill="#000080"/>
<path d="M355.73,365.77L361.56,362.34L361.56,369.20Z" fill="#000080"/>
<path d="M362.02,365.31L367.84,361.88L367.84,368.74Z" fill="#000080"/>
<path d="M368.31,364.79L374.13,361.36L374.13,368.22Z" fill="#000080"/>
<path d="M374.60,364.31L380.42,360.88L380.42,367.74Z" fill="#000080"/>
<path d="M380.88,363.77L386.71,360.34L386.71,367.20Z" fill="#000080"/>
<path d="M387.17,362.53L393.00,359.10L393.00,365.96Z" fill="#000080"/>
<path d="M393.46,361.17L399.28,357.74L399.28,364.60Z" fill="#000080"/>
<path d="M399.75,359.43L405.57,355.99L405.57,362.86Z" fill="#000080"/>
<path d="M406.04,357.79L411.86,354.36L411.86,361.22Z" fill="#000080"/>
<path d="M412.32,355.78L418.15,352.35L418.15,359.21Z" fill="#000080"/>
<path d="M418.61,353.44L424.44,350.00L424.44,356.87Z" fill="#000080"/>
<path d="M424.90,350.69L430.72,347.26L430.72,354.12Z" fill="#000080"/>
<path d="M431.19,347.42L437.01,343.99L437.01,350.86Z" fill="#000080"/>
<path d="M437.48,343.67L443.30,340.24L443.30,347.11Z" fill="#000080"/>
<path d="M443.76,339.05L449.59,335.61L449.59,342.48Z" fill="#000080"/>
<path d="M450.05,334.12L455.88,330.69L455.88,337.55Z" fill="#000080"/>
<path d="M456.34,329.01L462.16,325.58L462.16,332.44Z" fill="#000080"/>
<path d="M462.63,322.93L468.45,319.50L468.45,326.36Z" fill="#000080"/>
<path d="M468.91,316.64L474.74,313.21L474.74,320.07Z" fill="#000080"/>
<path d="M475.20,309.18L481.03,305.74L481.03,312.61Z" fill="#000080"/>
<path d="M481.49,301.45L487.31,298.02L487.31,304.88Z" fill="#000080"/>
<path d="M487.78,293.53L493.60,290.10L493.60,296.96Z" fill="#000080"/>
<path d="M494.07,284.59L499.89,281.15L499.89,288.02Z" fill="#000080"/>
<path d="M500.35,275.10L506.18,271.67L506.18,278.53Z" fill="#000080"/>
<path d="M506.64,264.08L512.47,260.65L512.47,267.51Z" fill="#000080"/>
<path d="M512.93,252.42L518.75,248.99L518.75,255.85Z" fill="#000080"/>
<path d="M519.22,237.01L525.04,233.58L525.04,240.44Z" fill="#000080"/>
<path d="M525.51,218.40L531.33,214.97L531.33,221.83Z" fill="#000080"/>
</g>
<rect x="319.00" y="211.40" width="219.00" height="161.70" fill="none" stroke="#1a1a1a" stroke-width="1.35"/>
<text x="313.30" y="372.70" text-anchor="end" font-size="10.6">0</text>
<text x="313.30" y="346.44" text-anchor="end" font-size="10.6">200</text>
<text x="313.30" y="320.18" text-anchor="end" font-size="10.6">400</text>
<text x="313.30" y="293.92" text-anchor="end" font-size="10.6">600</text>
<text x="313.30" y="267.66" text-anchor="end" font-size="10.6">800</text>
<text x="313.30" y="241.40" text-anchor="end" font-size="10.6">1000</text>
<text x="313.30" y="215.14" text-anchor="end" font-size="10.6">1200</text>
<path d="M319.00,369.00h-3.2M538.00,369.00h3.2M319.00,355.87h-1.9M538.00,355.87h1.9M319.00,342.74h-3.2M538.00,342.74h3.2M319.00,329.61h-1.9M538.00,329.61h1.9M319.00,316.48h-3.2M538.00,316.48h3.2M319.00,303.35h-1.9M538.00,303.35h1.9M319.00,290.22h-3.2M538.00,290.22h3.2M319.00,277.09h-1.9M538.00,277.09h1.9M319.00,263.96h-3.2M538.00,263.96h3.2M319.00,250.83h-1.9M538.00,250.83h1.9M319.00,237.70h-3.2M538.00,237.70h3.2M319.00,224.57h-1.9M538.00,224.57h1.9M319.00,211.44h-3.2M538.00,211.44h3.2M322.00,373.10v3.2M322.00,211.40v-3.2M342.98,373.10v1.9M342.98,211.40v-1.9M355.26,373.10v1.9M355.26,211.40v-1.9M363.96,373.10v1.9M363.96,211.40v-1.9M370.72,373.10v1.9M370.72,211.40v-1.9M376.24,373.10v1.9M376.24,211.40v-1.9M380.90,373.10v1.9M380.90,211.40v-1.9M384.95,373.10v1.9M384.95,211.40v-1.9M388.51,373.10v1.9M388.51,211.40v-1.9M391.70,373.10v3.2M391.70,211.40v-3.2M412.68,373.10v1.9M412.68,211.40v-1.9M424.96,373.10v1.9M424.96,211.40v-1.9M433.66,373.10v1.9M433.66,211.40v-1.9M440.42,373.10v1.9M440.42,211.40v-1.9M445.94,373.10v1.9M445.94,211.40v-1.9M450.60,373.10v1.9M450.60,211.40v-1.9M454.65,373.10v1.9M454.65,211.40v-1.9M458.21,373.10v1.9M458.21,211.40v-1.9M461.40,373.10v3.2M461.40,211.40v-3.2M482.38,373.10v1.9M482.38,211.40v-1.9M494.66,373.10v1.9M494.66,211.40v-1.9M503.36,373.10v1.9M503.36,211.40v-1.9M510.12,373.10v1.9M510.12,211.40v-1.9M515.64,373.10v1.9M515.64,211.40v-1.9M520.30,373.10v1.9M520.30,211.40v-1.9M524.35,373.10v1.9M524.35,211.40v-1.9M527.91,373.10v1.9M527.91,211.40v-1.9M531.10,373.10v3.2M531.10,211.40v-3.2" stroke="#1a1a1a" stroke-width="1.1" fill="none"/>
<text x="314.60" y="389.80" font-size="10.6">10<tspan font-size="6.9" dy="-5.4">3</tspan></text>
<text x="384.30" y="389.80" font-size="10.6">10<tspan font-size="6.9" dy="-5.4">4</tspan></text>
<text x="454.00" y="389.80" font-size="10.6">10<tspan font-size="6.9" dy="-5.4">5</tspan></text>
<text x="523.70" y="389.80" font-size="10.6">10<tspan font-size="6.9" dy="-5.4">6</tspan></text>
<text x="278.2" y="400.1" font-size="10.7">(d)</text>
<rect x="324.49" y="218.29" width="5.03" height="5.03" fill="#000000"/>
<text x="340.3" y="223.80" font-size="9.1" class="lg"><tspan font-family='"Liberation Serif", serif' font-style="italic" fill="#333" stroke="none">B</tspan> = 0.0 T</text>
<circle cx="327.00" cy="232.35" r="2.81" fill="#ff0000"/>
<text x="340.3" y="235.35" font-size="9.1" class="lg"><tspan font-family='"Liberation Serif", serif' font-style="italic" fill="#333" stroke="none">B</tspan> = 0.1 T</text>
<path d="M327.00,240.50L330.32,246.17L323.68,246.17Z" fill="#0000ff"/>
<text x="340.3" y="246.90" font-size="9.1" class="lg"><tspan font-family='"Liberation Serif", serif' font-style="italic" fill="#333" stroke="none">B</tspan> = 0.2 T</text>
<path d="M327.00,258.85L330.32,253.18L323.68,253.18Z" fill="#ff00ff"/>
<text x="340.3" y="258.45" font-size="9.1" class="lg"><tspan font-family='"Liberation Serif", serif' font-style="italic" fill="#333" stroke="none">B</tspan> = 0.3 T</text>
<path d="M327.00,263.47L330.53,267.00L327.00,270.53L323.47,267.00Z" fill="#008000"/>
<text x="340.3" y="270.00" font-size="9.1" class="lg"><tspan font-family='"Liberation Serif", serif' font-style="italic" fill="#333" stroke="none">B</tspan> = 0.4 T</text>
<path d="M323.40,278.55L329.40,275.02L329.40,282.08Z" fill="#000080"/>
<text x="340.3" y="281.55" font-size="9.1" class="lg"><tspan font-family='"Liberation Serif", serif' font-style="italic" fill="#333" stroke="none">B</tspan> = 0.5 T</text>
<text x="408.6" y="395.0" font-family='"Liberation Serif", serif' font-size="11" class="sf"><tspan font-style="italic">f</tspan>,<tspan dx="1.1"> (Hz)</tspan></text>
<g transform="translate(287.0,326.0) rotate(-90)" font-size="10">
<text transform="translate(-1.2,0) scale(1.12,1)" x="0" y="0">10<tspan font-size="7.6" dx="0.4" dy="-4.2">6</tspan></text>
<text x="17.9" y="0" font-family='"Liberation Serif", serif' font-style="italic" font-size="11" class="sf">x</text>
<text x="27.3" y="0" font-family='"Liberation Serif", serif' font-style="italic" font-size="13" class="sf">σ</text>
<text x="34.8" y="2.2" font-family='"Liberation Serif", serif' font-style="italic" font-size="13" class="sf">''</text>
<text x="38.8" y="0">,</text>
<text transform="translate(45.5,0) scale(1.08,1)" x="0" y="0">(1/Ω m)</text>
</g>
</svg></body></html>
